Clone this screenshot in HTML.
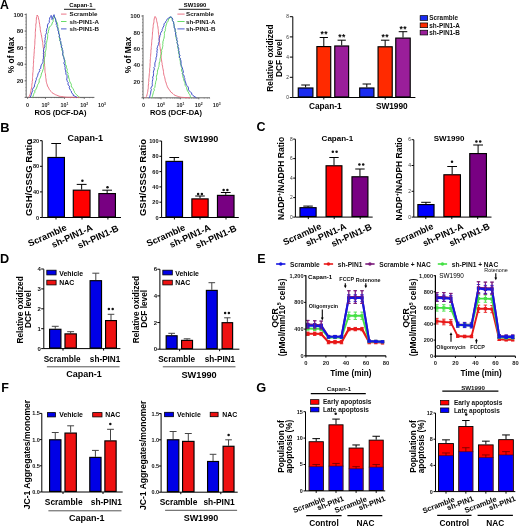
<!DOCTYPE html>
<html><head><meta charset="utf-8"><style>
html,body{margin:0;padding:0;background:#fff;width:520px;height:526px;overflow:hidden}
svg{display:block;font-family:"Liberation Sans",sans-serif;will-change:transform}
</style></head><body>
<svg width="520" height="526" viewBox="0 0 520 526">
<rect width="520" height="526" fill="#fff"/>
<text x="0" y="9.01" font-size="12.3" font-weight="bold">A</text>
<text x="0.3" y="131.84" font-size="12.9" font-weight="bold">B</text>
<text x="256.4" y="131.25" font-size="12.5" font-weight="bold">C</text>
<text x="0" y="263.09" font-size="12.7" font-weight="bold">D</text>
<text x="257.2" y="263.15" font-size="12.5" font-weight="bold">E</text>
<text x="1.2" y="392.15" font-size="12.5" font-weight="bold">F</text>
<text x="256.2" y="392.16" font-size="12.8" font-weight="bold">G</text>
<line x1="26.2" y1="13.5" x2="26.2" y2="97.4" stroke="#555" stroke-width="0.9"/>
<line x1="26.2" y1="97.4" x2="94.4" y2="97.4" stroke="#555" stroke-width="0.9"/>
<line x1="24.6" y1="97.4" x2="26.2" y2="97.4" stroke="#555" stroke-width="0.8"/>
<line x1="24.6" y1="80.82" x2="26.2" y2="80.82" stroke="#555" stroke-width="0.8"/>
<text x="23.4" y="82.97" font-size="6" font-weight="bold" text-anchor="end" fill="#222">20</text>
<line x1="24.6" y1="64.24" x2="26.2" y2="64.24" stroke="#555" stroke-width="0.8"/>
<text x="23.4" y="66.39" font-size="6" font-weight="bold" text-anchor="end" fill="#222">40</text>
<line x1="24.6" y1="47.66" x2="26.2" y2="47.66" stroke="#555" stroke-width="0.8"/>
<text x="23.4" y="49.81" font-size="6" font-weight="bold" text-anchor="end" fill="#222">60</text>
<line x1="24.6" y1="31.08" x2="26.2" y2="31.08" stroke="#555" stroke-width="0.8"/>
<text x="23.4" y="33.23" font-size="6" font-weight="bold" text-anchor="end" fill="#222">80</text>
<line x1="24.6" y1="14.5" x2="26.2" y2="14.5" stroke="#555" stroke-width="0.8"/>
<text x="23.4" y="16.65" font-size="6" font-weight="bold" text-anchor="end" fill="#222">100</text>
<line x1="25.4" y1="97.4" x2="26.2" y2="97.4" stroke="#555" stroke-width="0.5"/>
<line x1="25.4" y1="94.08" x2="26.2" y2="94.08" stroke="#555" stroke-width="0.5"/>
<line x1="25.4" y1="90.77" x2="26.2" y2="90.77" stroke="#555" stroke-width="0.5"/>
<line x1="25.4" y1="87.45" x2="26.2" y2="87.45" stroke="#555" stroke-width="0.5"/>
<line x1="25.4" y1="84.14" x2="26.2" y2="84.14" stroke="#555" stroke-width="0.5"/>
<line x1="25.4" y1="80.82" x2="26.2" y2="80.82" stroke="#555" stroke-width="0.5"/>
<line x1="25.4" y1="77.5" x2="26.2" y2="77.5" stroke="#555" stroke-width="0.5"/>
<line x1="25.4" y1="74.19" x2="26.2" y2="74.19" stroke="#555" stroke-width="0.5"/>
<line x1="25.4" y1="70.87" x2="26.2" y2="70.87" stroke="#555" stroke-width="0.5"/>
<line x1="25.4" y1="67.56" x2="26.2" y2="67.56" stroke="#555" stroke-width="0.5"/>
<line x1="25.4" y1="64.24" x2="26.2" y2="64.24" stroke="#555" stroke-width="0.5"/>
<line x1="25.4" y1="60.92" x2="26.2" y2="60.92" stroke="#555" stroke-width="0.5"/>
<line x1="25.4" y1="57.61" x2="26.2" y2="57.61" stroke="#555" stroke-width="0.5"/>
<line x1="25.4" y1="54.29" x2="26.2" y2="54.29" stroke="#555" stroke-width="0.5"/>
<line x1="25.4" y1="50.98" x2="26.2" y2="50.98" stroke="#555" stroke-width="0.5"/>
<line x1="25.4" y1="47.66" x2="26.2" y2="47.66" stroke="#555" stroke-width="0.5"/>
<line x1="25.4" y1="44.34" x2="26.2" y2="44.34" stroke="#555" stroke-width="0.5"/>
<line x1="25.4" y1="41.03" x2="26.2" y2="41.03" stroke="#555" stroke-width="0.5"/>
<line x1="25.4" y1="37.71" x2="26.2" y2="37.71" stroke="#555" stroke-width="0.5"/>
<line x1="25.4" y1="34.4" x2="26.2" y2="34.4" stroke="#555" stroke-width="0.5"/>
<line x1="25.4" y1="31.08" x2="26.2" y2="31.08" stroke="#555" stroke-width="0.5"/>
<line x1="25.4" y1="27.76" x2="26.2" y2="27.76" stroke="#555" stroke-width="0.5"/>
<line x1="25.4" y1="24.45" x2="26.2" y2="24.45" stroke="#555" stroke-width="0.5"/>
<line x1="25.4" y1="21.13" x2="26.2" y2="21.13" stroke="#555" stroke-width="0.5"/>
<line x1="25.4" y1="17.82" x2="26.2" y2="17.82" stroke="#555" stroke-width="0.5"/>
<line x1="27.6" y1="97.4" x2="27.6" y2="98.9" stroke="#555" stroke-width="0.8"/>
<text x="27.6" y="106.53" font-size="5.4" font-weight="bold" text-anchor="middle" fill="#222">0</text>
<line x1="45.5" y1="97.4" x2="45.5" y2="98.9" stroke="#555" stroke-width="0.8"/>
<text x="45.5" y="106.5" font-size="5.4" font-weight="bold" text-anchor="middle" fill="#222">10<tspan font-size="3.4" dy="-2">0</tspan></text>
<line x1="64.5" y1="97.4" x2="64.5" y2="98.9" stroke="#555" stroke-width="0.8"/>
<text x="64.5" y="106.5" font-size="5.4" font-weight="bold" text-anchor="middle" fill="#222">10<tspan font-size="3.4" dy="-2">1</tspan></text>
<line x1="84.3" y1="97.4" x2="84.3" y2="98.9" stroke="#555" stroke-width="0.8"/>
<text x="84.3" y="106.5" font-size="5.4" font-weight="bold" text-anchor="middle" fill="#222">10<tspan font-size="3.4" dy="-2">2</tspan></text>
<text x="102" y="106.5" font-size="5.4" font-weight="bold" text-anchor="middle" fill="#222">10<tspan font-size="3.4" dy="-2">3</tspan></text>
<line x1="32.99" y1="97.4" x2="32.99" y2="98.2" stroke="#555" stroke-width="0.5"/>
<line x1="36.14" y1="97.4" x2="36.14" y2="98.2" stroke="#555" stroke-width="0.5"/>
<line x1="38.38" y1="97.4" x2="38.38" y2="98.2" stroke="#555" stroke-width="0.5"/>
<line x1="40.11" y1="97.4" x2="40.11" y2="98.2" stroke="#555" stroke-width="0.5"/>
<line x1="41.53" y1="97.4" x2="41.53" y2="98.2" stroke="#555" stroke-width="0.5"/>
<line x1="42.73" y1="97.4" x2="42.73" y2="98.2" stroke="#555" stroke-width="0.5"/>
<line x1="43.77" y1="97.4" x2="43.77" y2="98.2" stroke="#555" stroke-width="0.5"/>
<line x1="44.68" y1="97.4" x2="44.68" y2="98.2" stroke="#555" stroke-width="0.5"/>
<line x1="51.22" y1="97.4" x2="51.22" y2="98.2" stroke="#555" stroke-width="0.5"/>
<line x1="54.57" y1="97.4" x2="54.57" y2="98.2" stroke="#555" stroke-width="0.5"/>
<line x1="56.94" y1="97.4" x2="56.94" y2="98.2" stroke="#555" stroke-width="0.5"/>
<line x1="58.78" y1="97.4" x2="58.78" y2="98.2" stroke="#555" stroke-width="0.5"/>
<line x1="60.28" y1="97.4" x2="60.28" y2="98.2" stroke="#555" stroke-width="0.5"/>
<line x1="61.56" y1="97.4" x2="61.56" y2="98.2" stroke="#555" stroke-width="0.5"/>
<line x1="62.66" y1="97.4" x2="62.66" y2="98.2" stroke="#555" stroke-width="0.5"/>
<line x1="63.63" y1="97.4" x2="63.63" y2="98.2" stroke="#555" stroke-width="0.5"/>
<line x1="70.46" y1="97.4" x2="70.46" y2="98.2" stroke="#555" stroke-width="0.5"/>
<line x1="73.95" y1="97.4" x2="73.95" y2="98.2" stroke="#555" stroke-width="0.5"/>
<line x1="76.42" y1="97.4" x2="76.42" y2="98.2" stroke="#555" stroke-width="0.5"/>
<line x1="78.34" y1="97.4" x2="78.34" y2="98.2" stroke="#555" stroke-width="0.5"/>
<line x1="79.91" y1="97.4" x2="79.91" y2="98.2" stroke="#555" stroke-width="0.5"/>
<line x1="81.23" y1="97.4" x2="81.23" y2="98.2" stroke="#555" stroke-width="0.5"/>
<line x1="82.38" y1="97.4" x2="82.38" y2="98.2" stroke="#555" stroke-width="0.5"/>
<line x1="83.39" y1="97.4" x2="83.39" y2="98.2" stroke="#555" stroke-width="0.5"/>
<line x1="89.63" y1="97.4" x2="89.63" y2="98.2" stroke="#555" stroke-width="0.5"/>
<line x1="92.75" y1="97.4" x2="92.75" y2="98.2" stroke="#555" stroke-width="0.5"/>
<path d="M28.5 97.4 L29.25 96.2 L29.89 95.06 L30.38 93.56 L30.6 92.19 L30.95 90.85 L31.08 89.32 L31.6 87.99 L31.75 86.58 L31.82 85.37 L31.92 84.08 L32.29 82.58 L32.19 81.34 L32.63 79.98 L32.48 78.79 L32.49 77.55 L32.68 76.4 L32.69 75.15 L32.75 73.99 L32.84 72.71 L33.07 71.61 L33.08 70.34 L33.25 69.26 L33.05 67.97 L33.3 66.84 L33.43 65.59 L33.47 64.43 L33.37 63.22 L33.61 62.06 L33.59 60.74 L33.54 59.41 L33.86 58.17 L33.77 56.92 L34.02 55.67 L34.01 54.35 L34.14 53.14 L34.23 51.8 L34.32 50.46 L34.27 49.31 L34.64 48.02 L34.53 46.74 L34.63 45.69 L34.78 44.41 L34.87 43.15 L34.84 42.08 L34.92 40.79 L34.9 39.61 L35.17 38.31 L35.19 37.26 L35.28 36.04 L35.33 34.8 L35.32 33.59 L35.23 32.47 L35.45 31.15 L35.5 30 L35.56 28.77 L35.71 27.62 L35.83 26.39 L35.76 25.15 L35.9 24.02 L36.21 22.85 L36.29 21.66 L36.23 20.46 L36.45 19.12 L36.36 17.91 L36.93 16.45 L37.08 15.02 L38.15 16.42 L38.36 17.8 L38.62 19.06 L39.04 20.39 L39.19 21.7 L39.36 22.98 L39.66 24.28 L39.75 25.74 L40.05 26.95 L40.27 28.39 L40.27 29.58 L40.49 31.04 L40.74 32.29 L41.13 33.51 L41.23 34.84 L41.64 36 L41.7 37.28 L41.99 38.51 L42.21 39.77 L42.37 40.96 L42.77 42.29 L42.71 43.51 L42.84 44.75 L43.11 45.87 L43.09 47.02 L43.41 48.25 L43.53 49.64 L43.59 50.72 L43.81 52.09 L43.84 53.2 L43.82 54.37 L43.85 55.63 L44 56.74 L43.98 58.03 L44.12 59.2 L44.21 60.47 L44.46 61.51 L44.33 62.77 L44.65 64.05 L44.53 65.15 L44.71 66.46 L44.87 67.57 L44.93 68.83 L44.9 70.09 L44.96 71.29 L45.05 72.44 L45.44 73.7 L45.53 75.02 L45.69 76.23 L45.68 77.46 L45.97 78.77 L46.14 80.07 L46.19 81.21 L46.48 82.32 L46.77 83.67 L47.29 84.86 L47.45 86.02 L48.21 87.1 L48.77 88.2 L49.25 89.33 L50.12 90.51 L51.13 91.49 L51.93 92.55 L53.1 93.41 L54.25 93.97 L55.28 94.65 L56.46 95.07 L57.95 95.65 L59 96.2 L60.4 96.4 L61.8 96.6 L63.2 96.8 L64.6 97 L66 97.2 L67.27 97.22 L68.55 97.24 L69.82 97.25 L71.09 97.27 L72.36 97.29 L73.64 97.31 L74.91 97.33 L76.18 97.35 L77.45 97.36 L78.73 97.38 L80 97.4" fill="none" stroke="#e8667a" stroke-width="0.9" stroke-linejoin="round" opacity="1"/>
<path d="M32.6 97.4 L33.08 96.05 L33.55 94.7 L34.02 93.35 L34.91 92.24 L34.7 90.5 L36 89.58 L36.45 88.07 L37 86.96 L37.45 85.49 L37.79 84.39 L38.53 83.49 L39.2 82.02 L39.2 80.62 L39.28 79.24 L40.12 78.15 L40.49 77.21 L41.09 75.7 L41.3 74.08 L41.84 72.8 L42.38 71.77 L42.89 69.83 L43.45 68.66 L43.49 67.42 L43.7 66.06 L43.51 64.86 L44.24 63.12 L44.23 62.12 L44.15 60.82 L44.35 59.83 L44.54 58.58 L44.59 57.41 L45.26 55.98 L45.1 54.98 L45.38 53.49 L45.06 52.16 L45.63 50.82 L45.95 49.62 L46.1 48.4 L46.27 47.36 L46 46.01 L46.34 44.76 L46.23 43.27 L46.61 42.38 L46.91 40.63 L47.29 39.69 L47.57 38.12 L47.62 36.76 L47.76 35.68 L47.59 34.8 L47.71 33.41 L48.6 32.06 L48.24 31.21 L48.86 29.78 L48.95 28.26 L49.5 27.09 L50.62 25.75 L51.87 24.72 L52.2 22.93 L53.25 21.35 L53.02 20.1 L53.5 18.42 L54.34 17.15 L53.78 15.92 L55.3 18.13 L55.55 19.41 L56.18 20.97 L57.12 22.53 L57.52 23.94 L57.77 25.31 L57.7 26.45 L58.14 27.9 L57.84 29.27 L58.74 30.4 L58.68 31.84 L58.81 33.01 L59.41 34.37 L59.35 35.64 L59.07 36.91 L59.43 37.82 L59.58 39.07 L59.89 40.51 L60.51 41.89 L61.14 43.08 L60.76 43.97 L61.03 45.3 L61.61 46.66 L61.94 47.62 L61.93 49.01 L61.8 50 L62.42 51.29 L62.95 52.61 L62.64 53.83 L63.09 55.06 L63.69 56.41 L63.83 57.73 L64.07 59.09 L65.08 60.21 L64.94 61.31 L65.35 62.25 L65.48 63.69 L65.55 64.65 L66.38 65.98 L66.41 67.47 L66.77 68.32 L67.38 69.55 L66.79 70.91 L67.14 71.9 L68.14 73.32 L67.74 74.42 L68.43 75.67 L68.59 76.95 L68.8 78.01 L69.41 79.59 L69.48 80.71 L69.92 81.84 L70.56 83.02 L71.35 84.22 L71.24 85.32 L71.66 86.95 L72.63 88.25 L73.23 88.9 L73.76 90.47 L74.38 91.48 L74.61 92.62 L75.57 93.68 L76.4 94.69 L77.86 95.76 L78.52 96.5 L79.6 97.4" fill="none" stroke="#58d858" stroke-width="0.9" stroke-linejoin="round" opacity="1"/>
<path d="M30.2 97.4 L30.8 95.93 L31.4 94.47 L31.69 93.03 L32.18 91.91 L32.82 90.35 L32.42 89.74 L33.04 88.14 L34.26 87.15 L34.4 85.98 L34.59 84.45 L35.01 83.66 L35.3 82.27 L35.91 80.49 L36.37 79.71 L36.18 78.14 L37.22 77.3 L37.4 76.43 L37.76 75.3 L38.01 73.85 L38.7 72.58 L39.85 70.61 L39.36 69.47 L40.76 68.4 L40.75 67.08 L41.01 65.92 L41.32 64.83 L42.1 63.82 L42.72 62.61 L43.05 61.39 L42.95 59.54 L43.29 58.85 L43.47 57.31 L43.36 55.79 L43.67 54.77 L43.18 53.11 L44.04 52.5 L43.29 51.07 L43.85 49.32 L43.88 48.48 L44.75 46.67 L44.59 45.42 L44.86 44.38 L45.21 43.6 L44.91 42.36 L44.82 40.45 L45.32 39.16 L44.99 38.18 L45.63 36.75 L45.15 35.86 L45.68 34.53 L46.58 32.71 L46.25 31.41 L46.67 30.07 L46.87 28.69 L47.63 27.21 L47.32 25.96 L47.99 23.86 L49.32 22.47 L49.26 20.55 L49.6 19.51 L49.62 18.08 L50.76 16.38 L51.15 15.38 L51.57 16.59 L51.95 18.17 L51.73 19.38 L52.84 18.8 L52.67 17.2 L53.41 15.87 L54.04 14.67 L54.44 16.47 L54.76 17.91 L55.66 18.99 L55.75 20.84 L55.77 21.8 L56.62 23.01 L56.14 24.35 L57.02 25.31 L56.83 26.68 L57.7 27.96 L58.13 29.1 L57.9 30.77 L58.96 31.96 L58.43 32.96 L59.05 34.23 L59.64 35.93 L59.15 36.75 L60.15 38.25 L60.41 39.26 L59.86 40.45 L60.92 41.66 L60.66 43 L61.02 44.22 L61.89 45.27 L61.06 47.06 L62.38 48.32 L62.12 49.52 L62.9 50.26 L62.87 51.96 L62.95 52.99 L62.69 54.11 L62.8 55.17 L63.42 56.59 L63.87 57.67 L64.18 59.34 L64.41 60.69 L64.58 61.66 L63.72 62.98 L64.11 63.86 L64.9 65.22 L64.8 66.72 L65.23 67.49 L65 69.06 L65.47 70.2 L65.56 71.09 L66.01 72.85 L65.81 74.14 L66.94 75.46 L67.05 76.2 L67.05 78.13 L66.59 79.01 L67.09 80.51 L67.51 81.78 L68.33 82.64 L67.87 83.93 L68.35 85.09 L69.77 86.86 L69.1 87.8 L69.78 88.87 L70.42 90.19 L71.3 91.07 L71.43 92.13 L71.95 93.37 L73.26 94.33 L73.1 95.27 L74.73 96.13 L75.87 96.77 L77 97.4" fill="none" stroke="#3848c8" stroke-width="0.95" stroke-linejoin="round" opacity="1"/>
<text x="80.9" y="7.31" font-size="5.9" font-weight="bold" text-anchor="middle" fill="#000">Capan-1</text>
<line x1="64" y1="9.3" x2="95.5" y2="9.3" stroke="#000" stroke-width="0.9"/>
<line x1="61" y1="14.1" x2="66.5" y2="14.1" stroke="#e8667a" stroke-width="0.9"/>
<text x="69.5" y="16.32" font-size="6.2" font-weight="bold" text-anchor="start" fill="#111">Scramble</text>
<line x1="61" y1="21.5" x2="66.5" y2="21.5" stroke="#58d858" stroke-width="0.9"/>
<text x="69.5" y="23.72" font-size="6.2" font-weight="bold" text-anchor="start" fill="#111">sh-PIN1-A</text>
<line x1="61" y1="28.9" x2="66.5" y2="28.9" stroke="#3848c8" stroke-width="0.9"/>
<text x="69.5" y="31.12" font-size="6.2" font-weight="bold" text-anchor="start" fill="#111">sh-PIN1-B</text>
<text transform="translate(14.41 55) rotate(-90)" font-size="8.4" font-weight="bold" text-anchor="middle" fill="#000">% of Max</text>
<text x="60.5" y="114.98" font-size="7.5" font-weight="bold" text-anchor="middle" fill="#000">ROS (DCF-DA)</text>
<line x1="143" y1="15" x2="143" y2="97.8" stroke="#555" stroke-width="0.9"/>
<line x1="143" y1="97.8" x2="210" y2="97.8" stroke="#555" stroke-width="0.9"/>
<line x1="141.4" y1="97.8" x2="143" y2="97.8" stroke="#555" stroke-width="0.8"/>
<line x1="141.4" y1="81.44" x2="143" y2="81.44" stroke="#555" stroke-width="0.8"/>
<text x="140.2" y="83.59" font-size="6" font-weight="bold" text-anchor="end" fill="#222">20</text>
<line x1="141.4" y1="65.08" x2="143" y2="65.08" stroke="#555" stroke-width="0.8"/>
<text x="140.2" y="67.23" font-size="6" font-weight="bold" text-anchor="end" fill="#222">40</text>
<line x1="141.4" y1="48.72" x2="143" y2="48.72" stroke="#555" stroke-width="0.8"/>
<text x="140.2" y="50.87" font-size="6" font-weight="bold" text-anchor="end" fill="#222">60</text>
<line x1="141.4" y1="32.36" x2="143" y2="32.36" stroke="#555" stroke-width="0.8"/>
<text x="140.2" y="34.51" font-size="6" font-weight="bold" text-anchor="end" fill="#222">80</text>
<line x1="141.4" y1="16" x2="143" y2="16" stroke="#555" stroke-width="0.8"/>
<text x="140.2" y="18.15" font-size="6" font-weight="bold" text-anchor="end" fill="#222">100</text>
<line x1="142.2" y1="97.8" x2="143" y2="97.8" stroke="#555" stroke-width="0.5"/>
<line x1="142.2" y1="94.53" x2="143" y2="94.53" stroke="#555" stroke-width="0.5"/>
<line x1="142.2" y1="91.26" x2="143" y2="91.26" stroke="#555" stroke-width="0.5"/>
<line x1="142.2" y1="87.98" x2="143" y2="87.98" stroke="#555" stroke-width="0.5"/>
<line x1="142.2" y1="84.71" x2="143" y2="84.71" stroke="#555" stroke-width="0.5"/>
<line x1="142.2" y1="81.44" x2="143" y2="81.44" stroke="#555" stroke-width="0.5"/>
<line x1="142.2" y1="78.17" x2="143" y2="78.17" stroke="#555" stroke-width="0.5"/>
<line x1="142.2" y1="74.9" x2="143" y2="74.9" stroke="#555" stroke-width="0.5"/>
<line x1="142.2" y1="71.62" x2="143" y2="71.62" stroke="#555" stroke-width="0.5"/>
<line x1="142.2" y1="68.35" x2="143" y2="68.35" stroke="#555" stroke-width="0.5"/>
<line x1="142.2" y1="65.08" x2="143" y2="65.08" stroke="#555" stroke-width="0.5"/>
<line x1="142.2" y1="61.81" x2="143" y2="61.81" stroke="#555" stroke-width="0.5"/>
<line x1="142.2" y1="58.54" x2="143" y2="58.54" stroke="#555" stroke-width="0.5"/>
<line x1="142.2" y1="55.26" x2="143" y2="55.26" stroke="#555" stroke-width="0.5"/>
<line x1="142.2" y1="51.99" x2="143" y2="51.99" stroke="#555" stroke-width="0.5"/>
<line x1="142.2" y1="48.72" x2="143" y2="48.72" stroke="#555" stroke-width="0.5"/>
<line x1="142.2" y1="45.45" x2="143" y2="45.45" stroke="#555" stroke-width="0.5"/>
<line x1="142.2" y1="42.18" x2="143" y2="42.18" stroke="#555" stroke-width="0.5"/>
<line x1="142.2" y1="38.9" x2="143" y2="38.9" stroke="#555" stroke-width="0.5"/>
<line x1="142.2" y1="35.63" x2="143" y2="35.63" stroke="#555" stroke-width="0.5"/>
<line x1="142.2" y1="32.36" x2="143" y2="32.36" stroke="#555" stroke-width="0.5"/>
<line x1="142.2" y1="29.09" x2="143" y2="29.09" stroke="#555" stroke-width="0.5"/>
<line x1="142.2" y1="25.82" x2="143" y2="25.82" stroke="#555" stroke-width="0.5"/>
<line x1="142.2" y1="22.54" x2="143" y2="22.54" stroke="#555" stroke-width="0.5"/>
<line x1="142.2" y1="19.27" x2="143" y2="19.27" stroke="#555" stroke-width="0.5"/>
<line x1="143.5" y1="97.8" x2="143.5" y2="99.3" stroke="#555" stroke-width="0.8"/>
<text x="143.5" y="106.93" font-size="5.4" font-weight="bold" text-anchor="middle" fill="#222">0</text>
<line x1="161" y1="97.8" x2="161" y2="99.3" stroke="#555" stroke-width="0.8"/>
<text x="161" y="106.9" font-size="5.4" font-weight="bold" text-anchor="middle" fill="#222">10<tspan font-size="3.4" dy="-2">0</tspan></text>
<line x1="180.4" y1="97.8" x2="180.4" y2="99.3" stroke="#555" stroke-width="0.8"/>
<text x="180.4" y="106.9" font-size="5.4" font-weight="bold" text-anchor="middle" fill="#222">10<tspan font-size="3.4" dy="-2">1</tspan></text>
<line x1="198.8" y1="97.8" x2="198.8" y2="99.3" stroke="#555" stroke-width="0.8"/>
<text x="198.8" y="106.9" font-size="5.4" font-weight="bold" text-anchor="middle" fill="#222">10<tspan font-size="3.4" dy="-2">2</tspan></text>
<text x="216.8" y="106.9" font-size="5.4" font-weight="bold" text-anchor="middle" fill="#222">10<tspan font-size="3.4" dy="-2">3</tspan></text>
<line x1="148.77" y1="97.8" x2="148.77" y2="98.6" stroke="#555" stroke-width="0.5"/>
<line x1="151.85" y1="97.8" x2="151.85" y2="98.6" stroke="#555" stroke-width="0.5"/>
<line x1="154.04" y1="97.8" x2="154.04" y2="98.6" stroke="#555" stroke-width="0.5"/>
<line x1="155.73" y1="97.8" x2="155.73" y2="98.6" stroke="#555" stroke-width="0.5"/>
<line x1="157.12" y1="97.8" x2="157.12" y2="98.6" stroke="#555" stroke-width="0.5"/>
<line x1="158.29" y1="97.8" x2="158.29" y2="98.6" stroke="#555" stroke-width="0.5"/>
<line x1="159.3" y1="97.8" x2="159.3" y2="98.6" stroke="#555" stroke-width="0.5"/>
<line x1="160.2" y1="97.8" x2="160.2" y2="98.6" stroke="#555" stroke-width="0.5"/>
<line x1="166.84" y1="97.8" x2="166.84" y2="98.6" stroke="#555" stroke-width="0.5"/>
<line x1="170.26" y1="97.8" x2="170.26" y2="98.6" stroke="#555" stroke-width="0.5"/>
<line x1="172.68" y1="97.8" x2="172.68" y2="98.6" stroke="#555" stroke-width="0.5"/>
<line x1="174.56" y1="97.8" x2="174.56" y2="98.6" stroke="#555" stroke-width="0.5"/>
<line x1="176.1" y1="97.8" x2="176.1" y2="98.6" stroke="#555" stroke-width="0.5"/>
<line x1="177.39" y1="97.8" x2="177.39" y2="98.6" stroke="#555" stroke-width="0.5"/>
<line x1="178.52" y1="97.8" x2="178.52" y2="98.6" stroke="#555" stroke-width="0.5"/>
<line x1="179.51" y1="97.8" x2="179.51" y2="98.6" stroke="#555" stroke-width="0.5"/>
<line x1="185.94" y1="97.8" x2="185.94" y2="98.6" stroke="#555" stroke-width="0.5"/>
<line x1="189.18" y1="97.8" x2="189.18" y2="98.6" stroke="#555" stroke-width="0.5"/>
<line x1="191.48" y1="97.8" x2="191.48" y2="98.6" stroke="#555" stroke-width="0.5"/>
<line x1="193.26" y1="97.8" x2="193.26" y2="98.6" stroke="#555" stroke-width="0.5"/>
<line x1="194.72" y1="97.8" x2="194.72" y2="98.6" stroke="#555" stroke-width="0.5"/>
<line x1="195.95" y1="97.8" x2="195.95" y2="98.6" stroke="#555" stroke-width="0.5"/>
<line x1="197.02" y1="97.8" x2="197.02" y2="98.6" stroke="#555" stroke-width="0.5"/>
<line x1="197.96" y1="97.8" x2="197.96" y2="98.6" stroke="#555" stroke-width="0.5"/>
<line x1="204.22" y1="97.8" x2="204.22" y2="98.6" stroke="#555" stroke-width="0.5"/>
<line x1="207.39" y1="97.8" x2="207.39" y2="98.6" stroke="#555" stroke-width="0.5"/>
<line x1="209.64" y1="97.8" x2="209.64" y2="98.6" stroke="#555" stroke-width="0.5"/>
<path d="M145 97.8 L145.9 96.9 L146.8 96 L146.93 94.86 L147.36 93.56 L147.52 92.39 L147.81 91.25 L147.88 89.92 L148.21 88.74 L148.3 87.41 L148.31 86.29 L148.35 85.08 L148.66 83.67 L148.51 82.51 L148.89 81.23 L148.78 79.99 L148.83 78.7 L149.06 77.5 L149.11 76.2 L149.22 74.99 L149.32 73.66 L149.57 72.51 L149.59 71.19 L149.78 70.06 L149.6 68.72 L149.87 67.54 L150.01 66.24 L150.07 65.03 L149.99 63.77 L150.25 62.56 L150.22 61.27 L150.16 59.95 L150.48 58.75 L150.39 57.55 L150.64 56.34 L150.63 55.07 L150.76 53.9 L150.86 52.6 L150.94 51.3 L150.9 50.19 L151.28 48.94 L151.19 47.63 L151.32 46.55 L151.49 45.24 L151.61 43.95 L151.62 42.85 L151.75 41.53 L151.78 40.32 L152.1 38.99 L152.16 37.9 L152.31 36.66 L152.4 35.39 L152.44 34.14 L152.41 32.99 L152.67 31.64 L152.77 30.46 L152.84 29.2 L153.01 28.02 L153.21 26.71 L153.2 25.38 L153.42 24.16 L153.79 22.91 L153.95 21.63 L153.96 20.35 L154.25 18.92 L154.46 17.66 L155.08 16.45 L156.08 18.02 L156.41 19.21 L156.61 20.58 L156.87 21.82 L157.29 23.13 L157.43 24.42 L157.6 25.69 L157.98 26.94 L158 28.29 L158.25 29.38 L158.4 30.7 L158.34 31.77 L158.5 33.11 L158.63 34.32 L158.9 35.51 L158.89 36.8 L159.18 37.93 L159.13 39.17 L159.3 40.37 L159.4 41.59 L159.45 42.75 L159.84 44.07 L159.79 45.29 L159.93 46.52 L160.21 47.65 L160.2 48.8 L160.54 50.03 L160.66 51.42 L160.73 52.5 L160.97 53.86 L161.06 55 L161.11 56.18 L161.21 57.46 L161.43 58.58 L161.48 59.88 L161.69 61.06 L161.85 62.34 L162.17 63.4 L162.11 64.67 L162.57 66.08 L162.61 67.31 L162.94 68.75 L163.24 69.99 L163.46 71.38 L163.57 72.76 L163.72 74.04 L163.98 75.24 L164.52 76.55 L164.78 77.92 L165.1 79.18 L165.25 80.46 L165.71 81.82 L166.22 83.11 L166.45 84.29 L166.92 85.44 L167.39 86.83 L168.09 88.06 L168.65 89.02 L169.48 89.98 L170.12 90.95 L170.67 91.96 L171.97 92.89 L173.03 93.74 L173.88 94.68 L175.1 95.41 L176.25 95.79 L177.4 96.22 L178.6 96.58 L179.8 96.94 L181 97.3 L182.29 97.37 L183.57 97.44 L184.86 97.51 L186.14 97.59 L187.43 97.66 L188.71 97.73 L190 97.8" fill="none" stroke="#e8667a" stroke-width="0.9" stroke-linejoin="round" opacity="1"/>
<path d="M152 97.8 L152.33 96.5 L152.67 95.2 L153 93.9 L153.33 92.6 L153.67 91.3 L154.41 90.24 L153.9 88.38 L154.9 87.33 L155.05 85.7 L155.3 84.46 L155.57 82.82 L155.69 81.61 L156.2 80.6 L156.65 79.02 L156.45 77.54 L156.33 76.08 L156.97 74.9 L157.11 73.99 L157.47 72.59 L157.43 71.08 L157.73 69.91 L158.12 69.16 L158.49 67.49 L158.91 66.6 L158.99 65.44 L159.24 64.16 L159.14 63 L159.95 61.31 L160.03 60.35 L160.03 58.99 L160.32 57.95 L160.6 56.65 L160.74 55.42 L161.49 53.93 L161.46 52.93 L161.78 51.5 L161.51 50.23 L162.11 48.95 L162.48 47.82 L162.66 46.65 L162.88 45.68 L162.65 44.39 L162.96 43.24 L162.83 41.84 L163.24 40.98 L163.56 39.27 L163.96 38.37 L164.27 36.83 L164.35 35.51 L164.49 34.38 L164.33 33.45 L164.45 32.01 L165.4 30.7 L165.11 29.87 L165.58 28.62 L165.51 27.26 L165.92 26.26 L166.12 25.25 L166.57 23.87 L167.07 22.37 L168.28 21.06 L168.22 20.1 L169.03 18.69 L170.21 17.68 L169.98 16.72 L172.1 18.13 L171.99 19.08 L172.24 20.31 L173.24 21.63 L173.7 22.8 L173.99 23.94 L173.98 24.85 L174.39 26.15 L174.14 27.47 L175.09 28.55 L175.08 29.94 L175.26 31.06 L175.91 32.37 L175.85 33.71 L175.57 35.03 L175.88 35.96 L175.98 37.22 L176.24 38.67 L176.81 40.06 L177.39 41.27 L176.96 42.17 L177.18 43.45 L177.71 44.76 L177.99 45.67 L177.93 47.01 L177.75 48.05 L178.32 49.39 L178.8 50.76 L178.44 52.03 L178.76 53.35 L179.22 54.78 L179.23 56.18 L179.34 57.62 L180.22 58.82 L179.94 60.01 L180.3 61.01 L180.38 62.51 L180.39 63.53 L181.17 64.93 L181.14 66.48 L181.45 67.39 L182.01 68.68 L181.37 70.1 L181.7 71.1 L182.62 72.49 L182.14 73.57 L182.75 74.79 L182.82 76.05 L182.96 77.08 L183.49 78.64 L183.56 79.7 L184 80.76 L184.52 81.86 L185.19 82.98 L184.96 84 L185.26 85.55 L186.11 86.77 L186.49 87.42 L186.8 88.99 L187.2 90 L187.44 91.09 L188.41 92.1 L188.74 93.33 L189.69 94.62 L190.25 95.75 L190.43 96.69 L191 97.8" fill="none" stroke="#58d858" stroke-width="0.9" stroke-linejoin="round" opacity="1"/>
<path d="M149.4 97.8 L149.72 96.64 L150.04 95.48 L150.36 94.32 L150.68 93.16 L150.69 92.03 L150.99 90.87 L151.45 89.29 L150.87 88.64 L151.31 87.01 L152.34 85.98 L152.3 84.78 L152.22 83.35 L152.36 82.66 L152.38 81.37 L152.71 79.69 L152.98 78.73 L152.59 77 L153.44 75.98 L153.43 74.94 L153.59 73.64 L153.37 72.22 L153.68 70.91 L154.45 68.91 L153.81 67.6 L155.06 66.35 L154.84 65.06 L154.88 63.92 L154.88 62.86 L155.34 61.89 L155.65 60.71 L156.04 59.55 L156.01 57.76 L156.47 56.93 L156.77 55.25 L156.78 53.59 L157.16 52.45 L156.74 50.69 L157.62 50.15 L156.91 48.82 L157.49 47.15 L157.55 46.39 L158.45 44.67 L158.42 43.41 L158.83 42.34 L159.31 41.55 L159.14 40.29 L159.19 38.36 L159.82 37.06 L159.77 35.87 L160.7 34.22 L160.45 33.26 L161.18 32.13 L162.28 30.51 L162.15 29.41 L162.77 28.27 L163.07 27.09 L164.03 25.88 L163.92 24.91 L164.19 23.48 L165.57 22.52 L165.86 21.11 L166.5 20.49 L166.82 19.48 L169.16 17.68 L170.95 16.78 L172.22 17.89 L172.75 19.5 L172.43 20.35 L173.71 22.33 L173.42 23.18 L174.04 24.3 L173.98 25.51 L174.2 26.93 L174.33 27.98 L175.11 28.95 L175.08 30.67 L175 31.49 L175.81 32.69 L175.3 34.02 L176.14 34.96 L175.91 36.32 L176.75 37.58 L177 38.57 L176.6 40.11 L177.5 41.29 L176.96 42.38 L177.56 43.76 L178.14 45.56 L177.63 46.48 L178.63 48.07 L178.87 49.19 L178.27 50.39 L179.28 51.62 L178.96 52.97 L179.26 54.21 L180.08 55.27 L179.19 57.08 L180.46 58.35 L180.16 59.57 L180.99 60.3 L181.01 61.99 L181.15 63.01 L180.93 64.14 L181.1 65.19 L181.77 66.6 L182.27 67.67 L182.73 69.47 L183.11 70.95 L183.43 72.06 L182.72 73.51 L183.26 74.52 L184.2 76.02 L184.23 77.57 L184.8 78.39 L184.7 80.01 L185.31 81.2 L185.49 82.03 L186.04 83.73 L186.21 85.01 L187.71 86.32 L188.19 87.05 L188.55 88.96 L188.46 89.84 L189.52 91.12 L190.51 92.18 L191.73 92.94 L191.67 94.13 L192.55 95.19 L194.13 96.27 L195.27 97.03 L196.4 97.8" fill="none" stroke="#3848c8" stroke-width="0.95" stroke-linejoin="round" opacity="1"/>
<text x="195.1" y="7.31" font-size="5.9" font-weight="bold" text-anchor="middle" fill="#000">SW1990</text>
<line x1="178.7" y1="9.3" x2="209.7" y2="9.3" stroke="#000" stroke-width="0.9"/>
<line x1="177.4" y1="14.1" x2="184.6" y2="14.1" stroke="#e8667a" stroke-width="0.9"/>
<text x="186" y="16.32" font-size="6.2" font-weight="bold" text-anchor="start" fill="#111">Scramble</text>
<line x1="177.4" y1="21.5" x2="184.6" y2="21.5" stroke="#58d858" stroke-width="0.9"/>
<text x="186" y="23.72" font-size="6.2" font-weight="bold" text-anchor="start" fill="#111">sh-PIN1-A</text>
<line x1="177.4" y1="28.9" x2="184.6" y2="28.9" stroke="#3848c8" stroke-width="0.9"/>
<text x="186" y="31.12" font-size="6.2" font-weight="bold" text-anchor="start" fill="#111">sh-PIN1-B</text>
<text transform="translate(130.51 55) rotate(-90)" font-size="8.4" font-weight="bold" text-anchor="middle" fill="#000">% of Max</text>
<text x="176" y="114.98" font-size="7.5" font-weight="bold" text-anchor="middle" fill="#000">ROS (DCF-DA)</text>
<line x1="292.8" y1="16.7" x2="292.8" y2="97.5" stroke="#000" stroke-width="1"/>
<line x1="289.8" y1="97.5" x2="292.8" y2="97.5" stroke="#000" stroke-width="1"/>
<text x="288.8" y="99.22" font-size="4.8" font-weight="normal" text-anchor="end" fill="#333">0</text>
<line x1="289.8" y1="77.3" x2="292.8" y2="77.3" stroke="#000" stroke-width="1"/>
<text x="288.8" y="79.02" font-size="4.8" font-weight="normal" text-anchor="end" fill="#333">2</text>
<line x1="289.8" y1="57.1" x2="292.8" y2="57.1" stroke="#000" stroke-width="1"/>
<text x="288.8" y="58.82" font-size="4.8" font-weight="normal" text-anchor="end" fill="#333">4</text>
<line x1="289.8" y1="36.9" x2="292.8" y2="36.9" stroke="#000" stroke-width="1"/>
<text x="288.8" y="38.62" font-size="4.8" font-weight="normal" text-anchor="end" fill="#333">6</text>
<line x1="289.8" y1="16.7" x2="292.8" y2="16.7" stroke="#000" stroke-width="1"/>
<text x="288.8" y="18.42" font-size="4.8" font-weight="normal" text-anchor="end" fill="#333">8</text>
<line x1="292.8" y1="97.5" x2="415.4" y2="97.5" stroke="#000" stroke-width="1"/>
<line x1="323.8" y1="97.5" x2="323.8" y2="99.5" stroke="#000" stroke-width="1"/>
<line x1="385.2" y1="97.5" x2="385.2" y2="99.5" stroke="#000" stroke-width="1"/>
<line x1="305.6" y1="87.4" x2="305.6" y2="85" stroke="#000" stroke-width="1"/>
<line x1="301.25" y1="85" x2="309.95" y2="85" stroke="#000" stroke-width="1"/>
<rect x="298.27" y="87.98" width="14.65" height="8.95" fill="#1a2cf0" stroke="#000" stroke-width="1.15"/>
<line x1="323.8" y1="46" x2="323.8" y2="37.5" stroke="#000" stroke-width="1"/>
<line x1="319.68" y1="37.5" x2="327.93" y2="37.5" stroke="#000" stroke-width="1"/>
<rect x="316.88" y="46.58" width="13.85" height="50.35" fill="#ff2a00" stroke="#000" stroke-width="1.15"/>
<line x1="341.7" y1="45.4" x2="341.7" y2="40.2" stroke="#000" stroke-width="1"/>
<line x1="337.57" y1="40.2" x2="345.82" y2="40.2" stroke="#000" stroke-width="1"/>
<rect x="334.77" y="45.98" width="13.85" height="50.95" fill="#9a1e9a" stroke="#000" stroke-width="1.15"/>
<line x1="366.8" y1="87.4" x2="366.8" y2="84" stroke="#000" stroke-width="1"/>
<line x1="362.56" y1="84" x2="371.04" y2="84" stroke="#000" stroke-width="1"/>
<rect x="359.68" y="87.98" width="14.25" height="8.95" fill="#1a2cf0" stroke="#000" stroke-width="1.15"/>
<line x1="385.15" y1="46.2" x2="385.15" y2="40.2" stroke="#000" stroke-width="1"/>
<line x1="380.94" y1="40.2" x2="389.36" y2="40.2" stroke="#000" stroke-width="1"/>
<rect x="378.07" y="46.78" width="14.15" height="50.15" fill="#ff2a00" stroke="#000" stroke-width="1.15"/>
<line x1="403" y1="37.5" x2="403" y2="31.7" stroke="#000" stroke-width="1"/>
<line x1="398.71" y1="31.7" x2="407.29" y2="31.7" stroke="#000" stroke-width="1"/>
<rect x="395.77" y="38.08" width="14.45" height="58.85" fill="#9a1e9a" stroke="#000" stroke-width="1.15"/>
<text x="324.25" y="37.1" font-size="8.5" font-weight="bold" text-anchor="middle" letter-spacing="0.5">**</text>
<text x="341.95" y="39.7" font-size="8.5" font-weight="bold" text-anchor="middle" letter-spacing="0.5">**</text>
<text x="385.25" y="40.1" font-size="8.5" font-weight="bold" text-anchor="middle" letter-spacing="0.5">**</text>
<text x="403.25" y="32.4" font-size="8.5" font-weight="bold" text-anchor="middle" letter-spacing="0.5">**</text>
<text x="325.3" y="109.47" font-size="8.3" font-weight="bold" text-anchor="middle" fill="#000">Capan-1</text>
<text x="391.8" y="109.47" font-size="8.3" font-weight="bold" text-anchor="middle" fill="#000">SW1990</text>
<text transform="translate(272.87 58) rotate(-90)" font-size="8.3" font-weight="bold" text-anchor="middle" fill="#000">Relative oxidized</text>
<text transform="translate(281.57 58) rotate(-90)" font-size="8.3" font-weight="bold" text-anchor="middle" fill="#000">DCF level</text>
<rect x="420.15" y="15.65" width="7.5" height="4.7" fill="#1a2cf0" stroke="#000" stroke-width="0.7"/>
<text x="429.3" y="20.29" font-size="6.4" font-weight="bold" text-anchor="start" fill="#111">Scramble</text>
<rect x="420.15" y="22.95" width="7.5" height="4.7" fill="#ff2a00" stroke="#000" stroke-width="0.7"/>
<text x="429.3" y="27.59" font-size="6.4" font-weight="bold" text-anchor="start" fill="#111">sh-PIN1-A</text>
<rect x="420.15" y="30.25" width="7.5" height="4.7" fill="#9a1e9a" stroke="#000" stroke-width="0.7"/>
<text x="429.3" y="34.89" font-size="6.4" font-weight="bold" text-anchor="start" fill="#111">sh-PIN1-B</text>
<line x1="42.2" y1="140.6" x2="42.2" y2="217.5" stroke="#000" stroke-width="1"/>
<line x1="40" y1="217.5" x2="42.2" y2="217.5" stroke="#000" stroke-width="1"/>
<text x="39.2" y="219.5" font-size="5.6" font-weight="bold" text-anchor="end" fill="#111">0</text>
<line x1="40" y1="191.9" x2="42.2" y2="191.9" stroke="#000" stroke-width="1"/>
<text x="39.2" y="193.9" font-size="5.6" font-weight="bold" text-anchor="end" fill="#111">40</text>
<line x1="40" y1="166.3" x2="42.2" y2="166.3" stroke="#000" stroke-width="1"/>
<text x="39.2" y="168.3" font-size="5.6" font-weight="bold" text-anchor="end" fill="#111">80</text>
<line x1="40" y1="140.7" x2="42.2" y2="140.7" stroke="#000" stroke-width="1"/>
<text x="39.2" y="142.7" font-size="5.6" font-weight="bold" text-anchor="end" fill="#111">120</text>
<line x1="42.2" y1="217.5" x2="121" y2="217.5" stroke="#000" stroke-width="1"/>
<line x1="56" y1="217.5" x2="56" y2="219.5" stroke="#000" stroke-width="1"/>
<line x1="82" y1="217.5" x2="82" y2="219.5" stroke="#000" stroke-width="1"/>
<line x1="107.9" y1="217.5" x2="107.9" y2="219.5" stroke="#000" stroke-width="1"/>
<line x1="56.15" y1="156.9" x2="56.15" y2="143.5" stroke="#000" stroke-width="1"/>
<line x1="51.28" y1="143.5" x2="61.02" y2="143.5" stroke="#000" stroke-width="1"/>
<rect x="47.88" y="157.47" width="16.55" height="59.45" fill="#0000ff" stroke="#000" stroke-width="1.15"/>
<line x1="81.65" y1="189.6" x2="81.65" y2="184.4" stroke="#000" stroke-width="1"/>
<line x1="76.73" y1="184.4" x2="86.57" y2="184.4" stroke="#000" stroke-width="1"/>
<rect x="73.28" y="190.17" width="16.75" height="26.75" fill="#ff0000" stroke="#000" stroke-width="1.15"/>
<line x1="107.15" y1="193" x2="107.15" y2="190.2" stroke="#000" stroke-width="1"/>
<line x1="102.28" y1="190.2" x2="112.02" y2="190.2" stroke="#000" stroke-width="1"/>
<rect x="98.88" y="193.57" width="16.55" height="23.35" fill="#780082" stroke="#000" stroke-width="1.15"/>
<circle cx="82.4" cy="180.8" r="1.25" fill="#111"/>
<circle cx="107.5" cy="187.2" r="1.25" fill="#111"/>
<text x="85.3" y="141.22" font-size="9" font-weight="bold" text-anchor="middle" fill="#000">Capan-1</text>
<text transform="translate(31.8 177.5) rotate(-90)" font-size="9.5" font-weight="bold" text-anchor="middle" fill="#000">GSH/GSSG Ratio</text>
<text transform="translate(67.5 229.7) rotate(-24.5)" font-size="9.2" font-weight="bold" text-anchor="end" fill="#000">Scramble</text>
<text transform="translate(93.3 229.7) rotate(-24.5)" font-size="9.2" font-weight="bold" text-anchor="end" fill="#000">sh-PIN1-A</text>
<text transform="translate(119.3 230.5) rotate(-24.5)" font-size="9.2" font-weight="bold" text-anchor="end" fill="#000">sh-PIN1-B</text>
<line x1="161.6" y1="141" x2="161.6" y2="217.5" stroke="#000" stroke-width="1"/>
<line x1="159.4" y1="217.5" x2="161.6" y2="217.5" stroke="#000" stroke-width="1"/>
<text x="158.6" y="219.5" font-size="5.6" font-weight="bold" text-anchor="end" fill="#111">0</text>
<line x1="159.4" y1="202.2" x2="161.6" y2="202.2" stroke="#000" stroke-width="1"/>
<text x="158.6" y="204.2" font-size="5.6" font-weight="bold" text-anchor="end" fill="#111">20</text>
<line x1="159.4" y1="186.9" x2="161.6" y2="186.9" stroke="#000" stroke-width="1"/>
<text x="158.6" y="188.9" font-size="5.6" font-weight="bold" text-anchor="end" fill="#111">40</text>
<line x1="159.4" y1="171.6" x2="161.6" y2="171.6" stroke="#000" stroke-width="1"/>
<text x="158.6" y="173.6" font-size="5.6" font-weight="bold" text-anchor="end" fill="#111">60</text>
<line x1="159.4" y1="156.3" x2="161.6" y2="156.3" stroke="#000" stroke-width="1"/>
<text x="158.6" y="158.3" font-size="5.6" font-weight="bold" text-anchor="end" fill="#111">80</text>
<line x1="159.4" y1="141" x2="161.6" y2="141" stroke="#000" stroke-width="1"/>
<text x="158.6" y="143" font-size="5.6" font-weight="bold" text-anchor="end" fill="#111">100</text>
<line x1="161.6" y1="217.5" x2="238.8" y2="217.5" stroke="#000" stroke-width="1"/>
<line x1="174.4" y1="217.5" x2="174.4" y2="219.5" stroke="#000" stroke-width="1"/>
<line x1="200" y1="217.5" x2="200" y2="219.5" stroke="#000" stroke-width="1"/>
<line x1="226" y1="217.5" x2="226" y2="219.5" stroke="#000" stroke-width="1"/>
<line x1="174.25" y1="160.8" x2="174.25" y2="157.5" stroke="#000" stroke-width="1"/>
<line x1="169.38" y1="157.5" x2="179.12" y2="157.5" stroke="#000" stroke-width="1"/>
<rect x="165.97" y="161.38" width="16.55" height="55.55" fill="#0000ff" stroke="#000" stroke-width="1.15"/>
<line x1="200" y1="198.3" x2="200" y2="196" stroke="#000" stroke-width="1"/>
<line x1="195.22" y1="196" x2="204.78" y2="196" stroke="#000" stroke-width="1"/>
<rect x="191.88" y="198.88" width="16.25" height="18.05" fill="#ff0000" stroke="#000" stroke-width="1.15"/>
<line x1="225.75" y1="194.8" x2="225.75" y2="192.5" stroke="#000" stroke-width="1"/>
<line x1="220.88" y1="192.5" x2="230.62" y2="192.5" stroke="#000" stroke-width="1"/>
<rect x="217.47" y="195.38" width="16.55" height="21.55" fill="#780082" stroke="#000" stroke-width="1.15"/>
<circle cx="198.1" cy="193.9" r="1.25" fill="#111"/>
<circle cx="201.9" cy="193.9" r="1.25" fill="#111"/>
<circle cx="223.6" cy="190.1" r="1.25" fill="#111"/>
<circle cx="227.4" cy="190.1" r="1.25" fill="#111"/>
<text x="201" y="141.92" font-size="9" font-weight="bold" text-anchor="middle" fill="#000">SW1990</text>
<text transform="translate(146 177.5) rotate(-90)" font-size="9.5" font-weight="bold" text-anchor="middle" fill="#000">GSH/GSSG Ratio</text>
<text transform="translate(186 229.7) rotate(-24.5)" font-size="9.2" font-weight="bold" text-anchor="end" fill="#000">Scramble</text>
<text transform="translate(211.3 229.7) rotate(-24.5)" font-size="9.2" font-weight="bold" text-anchor="end" fill="#000">sh-PIN1-A</text>
<text transform="translate(237.3 230.5) rotate(-24.5)" font-size="9.2" font-weight="bold" text-anchor="end" fill="#000">sh-PIN1-B</text>
<line x1="295.4" y1="139.2" x2="295.4" y2="217.1" stroke="#000" stroke-width="1"/>
<line x1="293.2" y1="217.1" x2="295.4" y2="217.1" stroke="#000" stroke-width="1"/>
<text x="292.7" y="218.85" font-size="4.9" font-weight="normal" text-anchor="end" fill="#333">0</text>
<line x1="293.2" y1="197.6" x2="295.4" y2="197.6" stroke="#000" stroke-width="1"/>
<text x="292.7" y="199.35" font-size="4.9" font-weight="normal" text-anchor="end" fill="#333">2</text>
<line x1="293.2" y1="178.1" x2="295.4" y2="178.1" stroke="#000" stroke-width="1"/>
<text x="292.7" y="179.85" font-size="4.9" font-weight="normal" text-anchor="end" fill="#333">4</text>
<line x1="293.2" y1="158.6" x2="295.4" y2="158.6" stroke="#000" stroke-width="1"/>
<text x="292.7" y="160.35" font-size="4.9" font-weight="normal" text-anchor="end" fill="#333">6</text>
<line x1="293.2" y1="139.1" x2="295.4" y2="139.1" stroke="#000" stroke-width="1"/>
<text x="292.7" y="140.85" font-size="4.9" font-weight="normal" text-anchor="end" fill="#333">8</text>
<line x1="295.6" y1="217.1" x2="372.7" y2="217.1" stroke="#000" stroke-width="1"/>
<line x1="308.3" y1="217.1" x2="308.3" y2="219.1" stroke="#000" stroke-width="1"/>
<line x1="334.2" y1="217.1" x2="334.2" y2="219.1" stroke="#000" stroke-width="1"/>
<line x1="360.2" y1="217.1" x2="360.2" y2="219.1" stroke="#000" stroke-width="1"/>
<line x1="308.05" y1="207.1" x2="308.05" y2="206.1" stroke="#000" stroke-width="1"/>
<line x1="303.29" y1="206.1" x2="312.81" y2="206.1" stroke="#000" stroke-width="1"/>
<rect x="299.97" y="207.67" width="16.15" height="8.85" fill="#0000ff" stroke="#000" stroke-width="1.15"/>
<line x1="334" y1="165.2" x2="334" y2="157.5" stroke="#000" stroke-width="1"/>
<line x1="329.32" y1="157.5" x2="338.68" y2="157.5" stroke="#000" stroke-width="1"/>
<rect x="326.07" y="165.77" width="15.85" height="50.75" fill="#ff0000" stroke="#000" stroke-width="1.15"/>
<line x1="359.95" y1="176.2" x2="359.95" y2="169" stroke="#000" stroke-width="1"/>
<line x1="355.25" y1="169" x2="364.65" y2="169" stroke="#000" stroke-width="1"/>
<rect x="351.97" y="176.77" width="15.95" height="39.75" fill="#780082" stroke="#000" stroke-width="1.15"/>
<circle cx="332.8" cy="151.7" r="1.25" fill="#111"/>
<circle cx="336.6" cy="151.7" r="1.25" fill="#111"/>
<circle cx="359.4" cy="164.5" r="1.25" fill="#111"/>
<circle cx="363.2" cy="164.5" r="1.25" fill="#111"/>
<text x="337.4" y="141.16" font-size="8" font-weight="bold" text-anchor="middle" fill="#000">Capan-1</text>
<text transform="translate(284.24 178.5) rotate(-90)" font-size="8.5" font-weight="bold" text-anchor="middle" fill="#000">NADP<tspan font-size="5" dy="-3">+</tspan><tspan dy="3">/NADPH Ratio</tspan></text>
<text transform="translate(322 228.5) rotate(-24.5)" font-size="9.1" font-weight="bold" text-anchor="end" fill="#000">Scramble</text>
<text transform="translate(347 228.5) rotate(-24.5)" font-size="9.1" font-weight="bold" text-anchor="end" fill="#000">sh-PIN1-A</text>
<text transform="translate(372.5 229) rotate(-24.5)" font-size="9.1" font-weight="bold" text-anchor="end" fill="#000">sh-PIN1-B</text>
<line x1="413.8" y1="139.8" x2="413.8" y2="217.1" stroke="#000" stroke-width="1"/>
<line x1="411.6" y1="217.1" x2="413.8" y2="217.1" stroke="#000" stroke-width="1"/>
<text x="411.1" y="218.85" font-size="4.9" font-weight="normal" text-anchor="end" fill="#333">0</text>
<line x1="411.6" y1="191.3" x2="413.8" y2="191.3" stroke="#000" stroke-width="1"/>
<text x="411.1" y="193.05" font-size="4.9" font-weight="normal" text-anchor="end" fill="#333">2</text>
<line x1="411.6" y1="165.5" x2="413.8" y2="165.5" stroke="#000" stroke-width="1"/>
<text x="411.1" y="167.25" font-size="4.9" font-weight="normal" text-anchor="end" fill="#333">4</text>
<line x1="411.6" y1="139.7" x2="413.8" y2="139.7" stroke="#000" stroke-width="1"/>
<text x="411.1" y="141.45" font-size="4.9" font-weight="normal" text-anchor="end" fill="#333">6</text>
<line x1="413.8" y1="217.1" x2="491.5" y2="217.1" stroke="#000" stroke-width="1"/>
<line x1="425.8" y1="217.1" x2="425.8" y2="219.1" stroke="#000" stroke-width="1"/>
<line x1="451.8" y1="217.1" x2="451.8" y2="219.1" stroke="#000" stroke-width="1"/>
<line x1="477.7" y1="217.1" x2="477.7" y2="219.1" stroke="#000" stroke-width="1"/>
<line x1="425.95" y1="204" x2="425.95" y2="202.3" stroke="#000" stroke-width="1"/>
<line x1="421.19" y1="202.3" x2="430.71" y2="202.3" stroke="#000" stroke-width="1"/>
<rect x="417.88" y="204.57" width="16.15" height="11.95" fill="#0000ff" stroke="#000" stroke-width="1.15"/>
<line x1="452.15" y1="174.2" x2="452.15" y2="166.5" stroke="#000" stroke-width="1"/>
<line x1="447.28" y1="166.5" x2="457.02" y2="166.5" stroke="#000" stroke-width="1"/>
<rect x="443.88" y="174.77" width="16.55" height="41.75" fill="#ff0000" stroke="#000" stroke-width="1.15"/>
<line x1="478.1" y1="153" x2="478.1" y2="145" stroke="#000" stroke-width="1"/>
<line x1="473.21" y1="145" x2="483" y2="145" stroke="#000" stroke-width="1"/>
<rect x="469.77" y="153.57" width="16.65" height="62.95" fill="#780082" stroke="#000" stroke-width="1.15"/>
<circle cx="452" cy="161.8" r="1.25" fill="#111"/>
<circle cx="476.4" cy="141.6" r="1.25" fill="#111"/>
<circle cx="480.2" cy="141.6" r="1.25" fill="#111"/>
<text x="449" y="140.56" font-size="8" font-weight="bold" text-anchor="middle" fill="#000">SW1990</text>
<text transform="translate(402.44 178.8) rotate(-90)" font-size="8.5" font-weight="bold" text-anchor="middle" fill="#000">NADP<tspan font-size="5" dy="-3">+</tspan><tspan dy="3">/NADPH Ratio</tspan></text>
<text transform="translate(434 228.5) rotate(-24.5)" font-size="9.1" font-weight="bold" text-anchor="end" fill="#000">Scramble</text>
<text transform="translate(464 228.5) rotate(-24.5)" font-size="9.1" font-weight="bold" text-anchor="end" fill="#000">sh-PIN1-A</text>
<text transform="translate(490.5 228.5) rotate(-24.5)" font-size="9.1" font-weight="bold" text-anchor="end" fill="#000">sh-PIN1-B</text>
<line x1="43.8" y1="269.2" x2="43.8" y2="348.6" stroke="#000" stroke-width="1"/>
<line x1="41.2" y1="348.6" x2="43.8" y2="348.6" stroke="#000" stroke-width="1"/>
<text x="40.9" y="350.75" font-size="6" font-weight="bold" text-anchor="end" fill="#111">0</text>
<line x1="41.2" y1="328.7" x2="43.8" y2="328.7" stroke="#000" stroke-width="1"/>
<text x="40.9" y="330.85" font-size="6" font-weight="bold" text-anchor="end" fill="#111">1</text>
<line x1="41.2" y1="308.8" x2="43.8" y2="308.8" stroke="#000" stroke-width="1"/>
<text x="40.9" y="310.95" font-size="6" font-weight="bold" text-anchor="end" fill="#111">2</text>
<line x1="41.2" y1="288.9" x2="43.8" y2="288.9" stroke="#000" stroke-width="1"/>
<text x="40.9" y="291.05" font-size="6" font-weight="bold" text-anchor="end" fill="#111">3</text>
<line x1="41.2" y1="269" x2="43.8" y2="269" stroke="#000" stroke-width="1"/>
<text x="40.9" y="271.15" font-size="6" font-weight="bold" text-anchor="end" fill="#111">4</text>
<line x1="43.8" y1="348.6" x2="120.4" y2="348.6" stroke="#000" stroke-width="1"/>
<line x1="63" y1="348.6" x2="63" y2="350.6" stroke="#000" stroke-width="1"/>
<line x1="103.6" y1="348.6" x2="103.6" y2="350.6" stroke="#000" stroke-width="1"/>
<line x1="55.25" y1="328.7" x2="55.25" y2="326.3" stroke="#444" stroke-width="1"/>
<line x1="51.81" y1="326.3" x2="58.69" y2="326.3" stroke="#444" stroke-width="1"/>
<rect x="49.58" y="329.28" width="11.35" height="18.75" fill="#0000e6" stroke="#000" stroke-width="1.15"/>
<line x1="70.65" y1="333.3" x2="70.65" y2="331.7" stroke="#444" stroke-width="1"/>
<line x1="67.21" y1="331.7" x2="74.09" y2="331.7" stroke="#444" stroke-width="1"/>
<rect x="64.98" y="333.88" width="11.35" height="14.15" fill="#ee1111" stroke="#000" stroke-width="1.15"/>
<line x1="95.8" y1="280.1" x2="95.8" y2="273.2" stroke="#444" stroke-width="1"/>
<line x1="92.33" y1="273.2" x2="99.27" y2="273.2" stroke="#444" stroke-width="1"/>
<rect x="90.08" y="280.68" width="11.45" height="67.35" fill="#0000e6" stroke="#000" stroke-width="1.15"/>
<line x1="111" y1="320" x2="111" y2="314.3" stroke="#444" stroke-width="1"/>
<line x1="107.7" y1="314.3" x2="114.3" y2="314.3" stroke="#444" stroke-width="1"/>
<rect x="105.58" y="320.57" width="10.85" height="27.45" fill="#ee1111" stroke="#000" stroke-width="1.15"/>
<circle cx="108.9" cy="308.9" r="1.25" fill="#111"/>
<circle cx="112.7" cy="308.9" r="1.25" fill="#111"/>
<rect x="46.8" y="270.2" width="9.3" height="4.7" fill="#0000e6" stroke="#000" stroke-width="0.8"/>
<rect x="46.8" y="280.2" width="9.3" height="4.7" fill="#ee1111" stroke="#000" stroke-width="0.8"/>
<text x="59.3" y="275.77" font-size="6.9" font-weight="bold" text-anchor="start" fill="#000">Vehicle</text>
<text x="59.3" y="285.17" font-size="6.9" font-weight="bold" text-anchor="start" fill="#000">NAC</text>
<text x="62.1" y="362.04" font-size="8.2" font-weight="bold" text-anchor="middle" fill="#000">Scramble</text>
<text x="105.1" y="362.04" font-size="8.2" font-weight="bold" text-anchor="middle" fill="#000">sh-PIN1</text>
<line x1="46.9" y1="366.8" x2="119.6" y2="366.8" stroke="#555" stroke-width="1"/>
<text x="84" y="377.42" font-size="9" font-weight="bold" text-anchor="middle" fill="#000">Capan-1</text>
<text transform="translate(22.57 309.9) rotate(-90)" font-size="8.3" font-weight="bold" text-anchor="middle" fill="#000">Relative oxidized</text>
<text transform="translate(30.57 309) rotate(-90)" font-size="8.3" font-weight="bold" text-anchor="middle" fill="#000">DCF level</text>
<line x1="159.9" y1="269.2" x2="159.9" y2="349.2" stroke="#000" stroke-width="1"/>
<line x1="157.3" y1="349.2" x2="159.9" y2="349.2" stroke="#000" stroke-width="1"/>
<text x="157" y="351.35" font-size="6" font-weight="bold" text-anchor="end" fill="#111">0</text>
<line x1="157.3" y1="322.54" x2="159.9" y2="322.54" stroke="#000" stroke-width="1"/>
<text x="157" y="324.69" font-size="6" font-weight="bold" text-anchor="end" fill="#111">2</text>
<line x1="157.3" y1="295.88" x2="159.9" y2="295.88" stroke="#000" stroke-width="1"/>
<text x="157" y="298.03" font-size="6" font-weight="bold" text-anchor="end" fill="#111">4</text>
<line x1="157.3" y1="269.22" x2="159.9" y2="269.22" stroke="#000" stroke-width="1"/>
<text x="157" y="271.37" font-size="6" font-weight="bold" text-anchor="end" fill="#111">6</text>
<line x1="159.8" y1="349.2" x2="239.4" y2="349.2" stroke="#000" stroke-width="1"/>
<line x1="179.6" y1="349.2" x2="179.6" y2="351.2" stroke="#000" stroke-width="1"/>
<line x1="219.6" y1="349.2" x2="219.6" y2="351.2" stroke="#000" stroke-width="1"/>
<line x1="171.65" y1="335.2" x2="171.65" y2="333.3" stroke="#444" stroke-width="1"/>
<line x1="168.32" y1="333.3" x2="174.98" y2="333.3" stroke="#444" stroke-width="1"/>
<rect x="166.17" y="335.77" width="10.95" height="12.85" fill="#0000e6" stroke="#000" stroke-width="1.15"/>
<line x1="187.05" y1="339.8" x2="187.05" y2="338.8" stroke="#444" stroke-width="1"/>
<line x1="183.72" y1="338.8" x2="190.38" y2="338.8" stroke="#444" stroke-width="1"/>
<rect x="181.57" y="340.38" width="10.95" height="8.25" fill="#ee1111" stroke="#000" stroke-width="1.15"/>
<line x1="211.8" y1="289.8" x2="211.8" y2="282.7" stroke="#444" stroke-width="1"/>
<line x1="208.5" y1="282.7" x2="215.1" y2="282.7" stroke="#444" stroke-width="1"/>
<rect x="206.38" y="290.38" width="10.85" height="58.25" fill="#0000e6" stroke="#000" stroke-width="1.15"/>
<line x1="227.35" y1="322.1" x2="227.35" y2="317.8" stroke="#444" stroke-width="1"/>
<line x1="224.13" y1="317.8" x2="230.57" y2="317.8" stroke="#444" stroke-width="1"/>
<rect x="222.07" y="322.68" width="10.55" height="25.95" fill="#ee1111" stroke="#000" stroke-width="1.15"/>
<circle cx="225.1" cy="313" r="1.25" fill="#111"/>
<circle cx="228.9" cy="313" r="1.25" fill="#111"/>
<rect x="162.8" y="270.2" width="9.5" height="4.7" fill="#0000e6" stroke="#000" stroke-width="0.8"/>
<rect x="162.8" y="280.2" width="9.5" height="4.7" fill="#ee1111" stroke="#000" stroke-width="0.8"/>
<text x="175.2" y="275.77" font-size="6.9" font-weight="bold" text-anchor="start" fill="#000">Vehicle</text>
<text x="175.2" y="285.17" font-size="6.9" font-weight="bold" text-anchor="start" fill="#000">NAC</text>
<text x="176.6" y="361.84" font-size="8.2" font-weight="bold" text-anchor="middle" fill="#000">Scramble</text>
<text x="219.9" y="361.84" font-size="8.2" font-weight="bold" text-anchor="middle" fill="#000">sh-PIN1</text>
<line x1="162.8" y1="366.8" x2="235.5" y2="366.8" stroke="#555" stroke-width="1"/>
<text x="199.1" y="377.89" font-size="9.2" font-weight="bold" text-anchor="middle" fill="#000">SW1990</text>
<text transform="translate(139.17 309.6) rotate(-90)" font-size="8.3" font-weight="bold" text-anchor="middle" fill="#000">Relative oxidized</text>
<text transform="translate(147.37 308.8) rotate(-90)" font-size="8.3" font-weight="bold" text-anchor="middle" fill="#000">DCF level</text>
<line x1="276.1" y1="264" x2="285.4" y2="264" stroke="#1515e0" stroke-width="1.6"/>
<circle cx="280.75" cy="264" r="1.7" fill="#1515e0"/>
<text x="290.1" y="266.66" font-size="6.6" font-weight="bold" text-anchor="start" fill="#111">Scramble</text>
<line x1="323.8" y1="264" x2="333.1" y2="264" stroke="#e81818" stroke-width="1.6"/>
<circle cx="328.45" cy="264" r="1.7" fill="#e81818"/>
<text x="337.8" y="266.66" font-size="6.6" font-weight="bold" text-anchor="start" fill="#111">sh-PIN1</text>
<line x1="365.3" y1="264" x2="374.6" y2="264" stroke="#7a1a7a" stroke-width="1.6"/>
<circle cx="369.95" cy="264" r="1.7" fill="#7a1a7a"/>
<text x="379.3" y="266.66" font-size="6.6" font-weight="bold" text-anchor="start" fill="#111">Scramble + NAC</text>
<line x1="437.8" y1="264" x2="447.1" y2="264" stroke="#44e044" stroke-width="1.6"/>
<circle cx="442.45" cy="264" r="1.7" fill="#44e044"/>
<text x="451.8" y="266.66" font-size="6.6" font-weight="bold" text-anchor="start" fill="#111">sh-PIN1 + NAC</text>
<path d="M307.8 324.43 L314.7 324.76 L321.2 325.1 L328.5 336.78 L335 336.78 L341.5 336.78 L348.8 297.06 L355.3 297.06 L362 297.06 L369.2 341.12 L375.8 341.45 L382.5 341.78" fill="none" stroke="#7a1a7a" stroke-width="1.9" stroke-linejoin="round" opacity="1"/>
<line x1="307.8" y1="320.42" x2="307.8" y2="328.43" stroke="#7a1a7a" stroke-width="0.9"/>
<line x1="306.1" y1="320.42" x2="309.5" y2="320.42" stroke="#7a1a7a" stroke-width="0.9"/>
<line x1="306.1" y1="328.43" x2="309.5" y2="328.43" stroke="#7a1a7a" stroke-width="0.9"/>
<rect x="306.2" y="322.83" width="3.2" height="3.2" fill="#7a1a7a"/>
<line x1="314.7" y1="320.76" x2="314.7" y2="328.77" stroke="#7a1a7a" stroke-width="0.9"/>
<line x1="313" y1="320.76" x2="316.4" y2="320.76" stroke="#7a1a7a" stroke-width="0.9"/>
<line x1="313" y1="328.77" x2="316.4" y2="328.77" stroke="#7a1a7a" stroke-width="0.9"/>
<rect x="313.1" y="323.16" width="3.2" height="3.2" fill="#7a1a7a"/>
<line x1="321.2" y1="321.09" x2="321.2" y2="329.1" stroke="#7a1a7a" stroke-width="0.9"/>
<line x1="319.5" y1="321.09" x2="322.9" y2="321.09" stroke="#7a1a7a" stroke-width="0.9"/>
<line x1="319.5" y1="329.1" x2="322.9" y2="329.1" stroke="#7a1a7a" stroke-width="0.9"/>
<rect x="319.6" y="323.5" width="3.2" height="3.2" fill="#7a1a7a"/>
<line x1="328.5" y1="335.44" x2="328.5" y2="338.11" stroke="#7a1a7a" stroke-width="0.9"/>
<line x1="326.8" y1="335.44" x2="330.2" y2="335.44" stroke="#7a1a7a" stroke-width="0.9"/>
<line x1="326.8" y1="338.11" x2="330.2" y2="338.11" stroke="#7a1a7a" stroke-width="0.9"/>
<rect x="326.9" y="335.18" width="3.2" height="3.2" fill="#7a1a7a"/>
<line x1="335" y1="335.44" x2="335" y2="338.11" stroke="#7a1a7a" stroke-width="0.9"/>
<line x1="333.3" y1="335.44" x2="336.7" y2="335.44" stroke="#7a1a7a" stroke-width="0.9"/>
<line x1="333.3" y1="338.11" x2="336.7" y2="338.11" stroke="#7a1a7a" stroke-width="0.9"/>
<rect x="333.4" y="335.18" width="3.2" height="3.2" fill="#7a1a7a"/>
<line x1="341.5" y1="335.44" x2="341.5" y2="338.11" stroke="#7a1a7a" stroke-width="0.9"/>
<line x1="339.8" y1="335.44" x2="343.2" y2="335.44" stroke="#7a1a7a" stroke-width="0.9"/>
<line x1="339.8" y1="338.11" x2="343.2" y2="338.11" stroke="#7a1a7a" stroke-width="0.9"/>
<rect x="339.9" y="335.18" width="3.2" height="3.2" fill="#7a1a7a"/>
<line x1="348.8" y1="290.72" x2="348.8" y2="303.4" stroke="#7a1a7a" stroke-width="0.9"/>
<line x1="347.1" y1="290.72" x2="350.5" y2="290.72" stroke="#7a1a7a" stroke-width="0.9"/>
<line x1="347.1" y1="303.4" x2="350.5" y2="303.4" stroke="#7a1a7a" stroke-width="0.9"/>
<rect x="347.2" y="295.46" width="3.2" height="3.2" fill="#7a1a7a"/>
<line x1="355.3" y1="290.72" x2="355.3" y2="303.4" stroke="#7a1a7a" stroke-width="0.9"/>
<line x1="353.6" y1="290.72" x2="357" y2="290.72" stroke="#7a1a7a" stroke-width="0.9"/>
<line x1="353.6" y1="303.4" x2="357" y2="303.4" stroke="#7a1a7a" stroke-width="0.9"/>
<rect x="353.7" y="295.46" width="3.2" height="3.2" fill="#7a1a7a"/>
<line x1="362" y1="290.72" x2="362" y2="303.4" stroke="#7a1a7a" stroke-width="0.9"/>
<line x1="360.3" y1="290.72" x2="363.7" y2="290.72" stroke="#7a1a7a" stroke-width="0.9"/>
<line x1="360.3" y1="303.4" x2="363.7" y2="303.4" stroke="#7a1a7a" stroke-width="0.9"/>
<rect x="360.4" y="295.46" width="3.2" height="3.2" fill="#7a1a7a"/>
<line x1="369.2" y1="340.45" x2="369.2" y2="341.78" stroke="#7a1a7a" stroke-width="0.9"/>
<line x1="367.5" y1="340.45" x2="370.9" y2="340.45" stroke="#7a1a7a" stroke-width="0.9"/>
<line x1="367.5" y1="341.78" x2="370.9" y2="341.78" stroke="#7a1a7a" stroke-width="0.9"/>
<rect x="367.6" y="339.51" width="3.2" height="3.2" fill="#7a1a7a"/>
<line x1="375.8" y1="340.78" x2="375.8" y2="342.12" stroke="#7a1a7a" stroke-width="0.9"/>
<line x1="374.1" y1="340.78" x2="377.5" y2="340.78" stroke="#7a1a7a" stroke-width="0.9"/>
<line x1="374.1" y1="342.12" x2="377.5" y2="342.12" stroke="#7a1a7a" stroke-width="0.9"/>
<rect x="374.2" y="339.85" width="3.2" height="3.2" fill="#7a1a7a"/>
<line x1="382.5" y1="341.12" x2="382.5" y2="342.45" stroke="#7a1a7a" stroke-width="0.9"/>
<line x1="380.8" y1="341.12" x2="384.2" y2="341.12" stroke="#7a1a7a" stroke-width="0.9"/>
<line x1="380.8" y1="342.45" x2="384.2" y2="342.45" stroke="#7a1a7a" stroke-width="0.9"/>
<rect x="380.9" y="340.18" width="3.2" height="3.2" fill="#7a1a7a"/>
<path d="M307.8 333.77 L314.7 333.77 L321.2 333.91 L328.5 342.12 L335 342.12 L341.5 342.12 L348.8 329.1 L355.3 329.1 L362 329.1 L369.2 342.12 L375.8 342.12 L382.5 342.45" fill="none" stroke="#e81818" stroke-width="2.2" stroke-linejoin="round" opacity="1"/>
<line x1="307.8" y1="332.1" x2="307.8" y2="335.44" stroke="#e81818" stroke-width="0.9"/>
<line x1="306.1" y1="332.1" x2="309.5" y2="332.1" stroke="#e81818" stroke-width="0.9"/>
<line x1="306.1" y1="335.44" x2="309.5" y2="335.44" stroke="#e81818" stroke-width="0.9"/>
<rect x="306.2" y="332.17" width="3.2" height="3.2" fill="#e81818"/>
<line x1="314.7" y1="332.1" x2="314.7" y2="335.44" stroke="#e81818" stroke-width="0.9"/>
<line x1="313" y1="332.1" x2="316.4" y2="332.1" stroke="#e81818" stroke-width="0.9"/>
<line x1="313" y1="335.44" x2="316.4" y2="335.44" stroke="#e81818" stroke-width="0.9"/>
<rect x="313.1" y="332.17" width="3.2" height="3.2" fill="#e81818"/>
<line x1="321.2" y1="332.24" x2="321.2" y2="335.57" stroke="#e81818" stroke-width="0.9"/>
<line x1="319.5" y1="332.24" x2="322.9" y2="332.24" stroke="#e81818" stroke-width="0.9"/>
<line x1="319.5" y1="335.57" x2="322.9" y2="335.57" stroke="#e81818" stroke-width="0.9"/>
<rect x="319.6" y="332.31" width="3.2" height="3.2" fill="#e81818"/>
<line x1="328.5" y1="340.45" x2="328.5" y2="343.79" stroke="#e81818" stroke-width="0.9"/>
<line x1="326.8" y1="340.45" x2="330.2" y2="340.45" stroke="#e81818" stroke-width="0.9"/>
<line x1="326.8" y1="343.79" x2="330.2" y2="343.79" stroke="#e81818" stroke-width="0.9"/>
<rect x="326.9" y="340.52" width="3.2" height="3.2" fill="#e81818"/>
<line x1="335" y1="340.45" x2="335" y2="343.79" stroke="#e81818" stroke-width="0.9"/>
<line x1="333.3" y1="340.45" x2="336.7" y2="340.45" stroke="#e81818" stroke-width="0.9"/>
<line x1="333.3" y1="343.79" x2="336.7" y2="343.79" stroke="#e81818" stroke-width="0.9"/>
<rect x="333.4" y="340.52" width="3.2" height="3.2" fill="#e81818"/>
<line x1="341.5" y1="340.45" x2="341.5" y2="343.79" stroke="#e81818" stroke-width="0.9"/>
<line x1="339.8" y1="340.45" x2="343.2" y2="340.45" stroke="#e81818" stroke-width="0.9"/>
<line x1="339.8" y1="343.79" x2="343.2" y2="343.79" stroke="#e81818" stroke-width="0.9"/>
<rect x="339.9" y="340.52" width="3.2" height="3.2" fill="#e81818"/>
<line x1="348.8" y1="327.43" x2="348.8" y2="330.77" stroke="#e81818" stroke-width="0.9"/>
<line x1="347.1" y1="327.43" x2="350.5" y2="327.43" stroke="#e81818" stroke-width="0.9"/>
<line x1="347.1" y1="330.77" x2="350.5" y2="330.77" stroke="#e81818" stroke-width="0.9"/>
<rect x="347.2" y="327.5" width="3.2" height="3.2" fill="#e81818"/>
<line x1="355.3" y1="327.43" x2="355.3" y2="330.77" stroke="#e81818" stroke-width="0.9"/>
<line x1="353.6" y1="327.43" x2="357" y2="327.43" stroke="#e81818" stroke-width="0.9"/>
<line x1="353.6" y1="330.77" x2="357" y2="330.77" stroke="#e81818" stroke-width="0.9"/>
<rect x="353.7" y="327.5" width="3.2" height="3.2" fill="#e81818"/>
<line x1="362" y1="327.43" x2="362" y2="330.77" stroke="#e81818" stroke-width="0.9"/>
<line x1="360.3" y1="327.43" x2="363.7" y2="327.43" stroke="#e81818" stroke-width="0.9"/>
<line x1="360.3" y1="330.77" x2="363.7" y2="330.77" stroke="#e81818" stroke-width="0.9"/>
<rect x="360.4" y="327.5" width="3.2" height="3.2" fill="#e81818"/>
<line x1="369.2" y1="340.45" x2="369.2" y2="343.79" stroke="#e81818" stroke-width="0.9"/>
<line x1="367.5" y1="340.45" x2="370.9" y2="340.45" stroke="#e81818" stroke-width="0.9"/>
<line x1="367.5" y1="343.79" x2="370.9" y2="343.79" stroke="#e81818" stroke-width="0.9"/>
<rect x="367.6" y="340.52" width="3.2" height="3.2" fill="#e81818"/>
<line x1="375.8" y1="340.45" x2="375.8" y2="343.79" stroke="#e81818" stroke-width="0.9"/>
<line x1="374.1" y1="340.45" x2="377.5" y2="340.45" stroke="#e81818" stroke-width="0.9"/>
<line x1="374.1" y1="343.79" x2="377.5" y2="343.79" stroke="#e81818" stroke-width="0.9"/>
<rect x="374.2" y="340.52" width="3.2" height="3.2" fill="#e81818"/>
<line x1="382.5" y1="340.78" x2="382.5" y2="344.12" stroke="#e81818" stroke-width="0.9"/>
<line x1="380.8" y1="340.78" x2="384.2" y2="340.78" stroke="#e81818" stroke-width="0.9"/>
<line x1="380.8" y1="344.12" x2="384.2" y2="344.12" stroke="#e81818" stroke-width="0.9"/>
<rect x="380.9" y="340.85" width="3.2" height="3.2" fill="#e81818"/>
<path d="M307.8 328.43 L314.7 328.77 L321.2 328.77 L328.5 337.44 L335 337.44 L341.5 337.44 L348.8 315.75 L355.3 315.75 L362 315.75 L369.2 341.45 L375.8 341.45 L382.5 341.78" fill="none" stroke="#44e044" stroke-width="1.9" stroke-linejoin="round" opacity="1"/>
<line x1="307.8" y1="326.76" x2="307.8" y2="330.1" stroke="#44e044" stroke-width="0.9"/>
<line x1="306.1" y1="326.76" x2="309.5" y2="326.76" stroke="#44e044" stroke-width="0.9"/>
<line x1="306.1" y1="330.1" x2="309.5" y2="330.1" stroke="#44e044" stroke-width="0.9"/>
<rect x="306.2" y="326.83" width="3.2" height="3.2" fill="#44e044"/>
<line x1="314.7" y1="327.1" x2="314.7" y2="330.44" stroke="#44e044" stroke-width="0.9"/>
<line x1="313" y1="327.1" x2="316.4" y2="327.1" stroke="#44e044" stroke-width="0.9"/>
<line x1="313" y1="330.44" x2="316.4" y2="330.44" stroke="#44e044" stroke-width="0.9"/>
<rect x="313.1" y="327.17" width="3.2" height="3.2" fill="#44e044"/>
<line x1="321.2" y1="327.1" x2="321.2" y2="330.44" stroke="#44e044" stroke-width="0.9"/>
<line x1="319.5" y1="327.1" x2="322.9" y2="327.1" stroke="#44e044" stroke-width="0.9"/>
<line x1="319.5" y1="330.44" x2="322.9" y2="330.44" stroke="#44e044" stroke-width="0.9"/>
<rect x="319.6" y="327.17" width="3.2" height="3.2" fill="#44e044"/>
<line x1="328.5" y1="336.44" x2="328.5" y2="338.45" stroke="#44e044" stroke-width="0.9"/>
<line x1="326.8" y1="336.44" x2="330.2" y2="336.44" stroke="#44e044" stroke-width="0.9"/>
<line x1="326.8" y1="338.45" x2="330.2" y2="338.45" stroke="#44e044" stroke-width="0.9"/>
<rect x="326.9" y="335.84" width="3.2" height="3.2" fill="#44e044"/>
<line x1="335" y1="336.44" x2="335" y2="338.45" stroke="#44e044" stroke-width="0.9"/>
<line x1="333.3" y1="336.44" x2="336.7" y2="336.44" stroke="#44e044" stroke-width="0.9"/>
<line x1="333.3" y1="338.45" x2="336.7" y2="338.45" stroke="#44e044" stroke-width="0.9"/>
<rect x="333.4" y="335.84" width="3.2" height="3.2" fill="#44e044"/>
<line x1="341.5" y1="336.44" x2="341.5" y2="338.45" stroke="#44e044" stroke-width="0.9"/>
<line x1="339.8" y1="336.44" x2="343.2" y2="336.44" stroke="#44e044" stroke-width="0.9"/>
<line x1="339.8" y1="338.45" x2="343.2" y2="338.45" stroke="#44e044" stroke-width="0.9"/>
<rect x="339.9" y="335.84" width="3.2" height="3.2" fill="#44e044"/>
<line x1="348.8" y1="312.08" x2="348.8" y2="319.42" stroke="#44e044" stroke-width="0.9"/>
<line x1="347.1" y1="312.08" x2="350.5" y2="312.08" stroke="#44e044" stroke-width="0.9"/>
<line x1="347.1" y1="319.42" x2="350.5" y2="319.42" stroke="#44e044" stroke-width="0.9"/>
<rect x="347.2" y="314.15" width="3.2" height="3.2" fill="#44e044"/>
<line x1="355.3" y1="312.08" x2="355.3" y2="319.42" stroke="#44e044" stroke-width="0.9"/>
<line x1="353.6" y1="312.08" x2="357" y2="312.08" stroke="#44e044" stroke-width="0.9"/>
<line x1="353.6" y1="319.42" x2="357" y2="319.42" stroke="#44e044" stroke-width="0.9"/>
<rect x="353.7" y="314.15" width="3.2" height="3.2" fill="#44e044"/>
<line x1="362" y1="312.08" x2="362" y2="319.42" stroke="#44e044" stroke-width="0.9"/>
<line x1="360.3" y1="312.08" x2="363.7" y2="312.08" stroke="#44e044" stroke-width="0.9"/>
<line x1="360.3" y1="319.42" x2="363.7" y2="319.42" stroke="#44e044" stroke-width="0.9"/>
<rect x="360.4" y="314.15" width="3.2" height="3.2" fill="#44e044"/>
<line x1="369.2" y1="340.78" x2="369.2" y2="342.12" stroke="#44e044" stroke-width="0.9"/>
<line x1="367.5" y1="340.78" x2="370.9" y2="340.78" stroke="#44e044" stroke-width="0.9"/>
<line x1="367.5" y1="342.12" x2="370.9" y2="342.12" stroke="#44e044" stroke-width="0.9"/>
<rect x="367.6" y="339.85" width="3.2" height="3.2" fill="#44e044"/>
<line x1="375.8" y1="340.78" x2="375.8" y2="342.12" stroke="#44e044" stroke-width="0.9"/>
<line x1="374.1" y1="340.78" x2="377.5" y2="340.78" stroke="#44e044" stroke-width="0.9"/>
<line x1="374.1" y1="342.12" x2="377.5" y2="342.12" stroke="#44e044" stroke-width="0.9"/>
<rect x="374.2" y="339.85" width="3.2" height="3.2" fill="#44e044"/>
<line x1="382.5" y1="341.12" x2="382.5" y2="342.45" stroke="#44e044" stroke-width="0.9"/>
<line x1="380.8" y1="341.12" x2="384.2" y2="341.12" stroke="#44e044" stroke-width="0.9"/>
<line x1="380.8" y1="342.45" x2="384.2" y2="342.45" stroke="#44e044" stroke-width="0.9"/>
<rect x="380.9" y="340.18" width="3.2" height="3.2" fill="#44e044"/>
<path d="M307.8 325.76 L314.7 325.76 L321.2 326.43 L328.5 336.78 L335 336.78 L341.5 336.78 L348.8 298.06 L355.3 298.06 L362 298.06 L369.2 341.12 L375.8 341.45 L382.5 341.78" fill="none" stroke="#1515e0" stroke-width="2.1" stroke-linejoin="round" opacity="1"/>
<line x1="307.8" y1="323.76" x2="307.8" y2="327.76" stroke="#1515e0" stroke-width="0.9"/>
<line x1="306.1" y1="323.76" x2="309.5" y2="323.76" stroke="#1515e0" stroke-width="0.9"/>
<line x1="306.1" y1="327.76" x2="309.5" y2="327.76" stroke="#1515e0" stroke-width="0.9"/>
<rect x="306.2" y="324.16" width="3.2" height="3.2" fill="#1515e0"/>
<line x1="314.7" y1="323.76" x2="314.7" y2="327.76" stroke="#1515e0" stroke-width="0.9"/>
<line x1="313" y1="323.76" x2="316.4" y2="323.76" stroke="#1515e0" stroke-width="0.9"/>
<line x1="313" y1="327.76" x2="316.4" y2="327.76" stroke="#1515e0" stroke-width="0.9"/>
<rect x="313.1" y="324.16" width="3.2" height="3.2" fill="#1515e0"/>
<line x1="321.2" y1="324.43" x2="321.2" y2="328.43" stroke="#1515e0" stroke-width="0.9"/>
<line x1="319.5" y1="324.43" x2="322.9" y2="324.43" stroke="#1515e0" stroke-width="0.9"/>
<line x1="319.5" y1="328.43" x2="322.9" y2="328.43" stroke="#1515e0" stroke-width="0.9"/>
<rect x="319.6" y="324.83" width="3.2" height="3.2" fill="#1515e0"/>
<line x1="328.5" y1="335.44" x2="328.5" y2="338.11" stroke="#1515e0" stroke-width="0.9"/>
<line x1="326.8" y1="335.44" x2="330.2" y2="335.44" stroke="#1515e0" stroke-width="0.9"/>
<line x1="326.8" y1="338.11" x2="330.2" y2="338.11" stroke="#1515e0" stroke-width="0.9"/>
<rect x="326.9" y="335.18" width="3.2" height="3.2" fill="#1515e0"/>
<line x1="335" y1="335.44" x2="335" y2="338.11" stroke="#1515e0" stroke-width="0.9"/>
<line x1="333.3" y1="335.44" x2="336.7" y2="335.44" stroke="#1515e0" stroke-width="0.9"/>
<line x1="333.3" y1="338.11" x2="336.7" y2="338.11" stroke="#1515e0" stroke-width="0.9"/>
<rect x="333.4" y="335.18" width="3.2" height="3.2" fill="#1515e0"/>
<line x1="341.5" y1="335.44" x2="341.5" y2="338.11" stroke="#1515e0" stroke-width="0.9"/>
<line x1="339.8" y1="335.44" x2="343.2" y2="335.44" stroke="#1515e0" stroke-width="0.9"/>
<line x1="339.8" y1="338.11" x2="343.2" y2="338.11" stroke="#1515e0" stroke-width="0.9"/>
<rect x="339.9" y="335.18" width="3.2" height="3.2" fill="#1515e0"/>
<line x1="348.8" y1="294.72" x2="348.8" y2="301.4" stroke="#1515e0" stroke-width="0.9"/>
<line x1="347.1" y1="294.72" x2="350.5" y2="294.72" stroke="#1515e0" stroke-width="0.9"/>
<line x1="347.1" y1="301.4" x2="350.5" y2="301.4" stroke="#1515e0" stroke-width="0.9"/>
<rect x="347.2" y="296.46" width="3.2" height="3.2" fill="#1515e0"/>
<line x1="355.3" y1="294.72" x2="355.3" y2="301.4" stroke="#1515e0" stroke-width="0.9"/>
<line x1="353.6" y1="294.72" x2="357" y2="294.72" stroke="#1515e0" stroke-width="0.9"/>
<line x1="353.6" y1="301.4" x2="357" y2="301.4" stroke="#1515e0" stroke-width="0.9"/>
<rect x="353.7" y="296.46" width="3.2" height="3.2" fill="#1515e0"/>
<line x1="362" y1="294.72" x2="362" y2="301.4" stroke="#1515e0" stroke-width="0.9"/>
<line x1="360.3" y1="294.72" x2="363.7" y2="294.72" stroke="#1515e0" stroke-width="0.9"/>
<line x1="360.3" y1="301.4" x2="363.7" y2="301.4" stroke="#1515e0" stroke-width="0.9"/>
<rect x="360.4" y="296.46" width="3.2" height="3.2" fill="#1515e0"/>
<line x1="369.2" y1="340.45" x2="369.2" y2="341.78" stroke="#1515e0" stroke-width="0.9"/>
<line x1="367.5" y1="340.45" x2="370.9" y2="340.45" stroke="#1515e0" stroke-width="0.9"/>
<line x1="367.5" y1="341.78" x2="370.9" y2="341.78" stroke="#1515e0" stroke-width="0.9"/>
<rect x="367.6" y="339.51" width="3.2" height="3.2" fill="#1515e0"/>
<line x1="375.8" y1="340.78" x2="375.8" y2="342.12" stroke="#1515e0" stroke-width="0.9"/>
<line x1="374.1" y1="340.78" x2="377.5" y2="340.78" stroke="#1515e0" stroke-width="0.9"/>
<line x1="374.1" y1="342.12" x2="377.5" y2="342.12" stroke="#1515e0" stroke-width="0.9"/>
<rect x="374.2" y="339.85" width="3.2" height="3.2" fill="#1515e0"/>
<line x1="382.5" y1="341.12" x2="382.5" y2="342.45" stroke="#1515e0" stroke-width="0.9"/>
<line x1="380.8" y1="341.12" x2="384.2" y2="341.12" stroke="#1515e0" stroke-width="0.9"/>
<line x1="380.8" y1="342.45" x2="384.2" y2="342.45" stroke="#1515e0" stroke-width="0.9"/>
<rect x="380.9" y="340.18" width="3.2" height="3.2" fill="#1515e0"/>
<line x1="307.8" y1="320.42" x2="307.8" y2="328.43" stroke="#7a1a7a" stroke-width="0.9"/>
<line x1="306.1" y1="320.42" x2="309.5" y2="320.42" stroke="#7a1a7a" stroke-width="0.9"/>
<line x1="306.1" y1="328.43" x2="309.5" y2="328.43" stroke="#7a1a7a" stroke-width="0.9"/>
<line x1="314.7" y1="320.76" x2="314.7" y2="328.77" stroke="#7a1a7a" stroke-width="0.9"/>
<line x1="313" y1="320.76" x2="316.4" y2="320.76" stroke="#7a1a7a" stroke-width="0.9"/>
<line x1="313" y1="328.77" x2="316.4" y2="328.77" stroke="#7a1a7a" stroke-width="0.9"/>
<line x1="321.2" y1="321.09" x2="321.2" y2="329.1" stroke="#7a1a7a" stroke-width="0.9"/>
<line x1="319.5" y1="321.09" x2="322.9" y2="321.09" stroke="#7a1a7a" stroke-width="0.9"/>
<line x1="319.5" y1="329.1" x2="322.9" y2="329.1" stroke="#7a1a7a" stroke-width="0.9"/>
<line x1="348.8" y1="290.72" x2="348.8" y2="303.4" stroke="#7a1a7a" stroke-width="0.9"/>
<line x1="347.1" y1="290.72" x2="350.5" y2="290.72" stroke="#7a1a7a" stroke-width="0.9"/>
<line x1="347.1" y1="303.4" x2="350.5" y2="303.4" stroke="#7a1a7a" stroke-width="0.9"/>
<line x1="355.3" y1="290.72" x2="355.3" y2="303.4" stroke="#7a1a7a" stroke-width="0.9"/>
<line x1="353.6" y1="290.72" x2="357" y2="290.72" stroke="#7a1a7a" stroke-width="0.9"/>
<line x1="353.6" y1="303.4" x2="357" y2="303.4" stroke="#7a1a7a" stroke-width="0.9"/>
<line x1="362" y1="290.72" x2="362" y2="303.4" stroke="#7a1a7a" stroke-width="0.9"/>
<line x1="360.3" y1="290.72" x2="363.7" y2="290.72" stroke="#7a1a7a" stroke-width="0.9"/>
<line x1="360.3" y1="303.4" x2="363.7" y2="303.4" stroke="#7a1a7a" stroke-width="0.9"/>
<line x1="305.9" y1="355.8" x2="305.9" y2="275.2" stroke="#000" stroke-width="1.2"/>
<line x1="305.9" y1="355.8" x2="385.9" y2="355.8" stroke="#000" stroke-width="1.2"/>
<line x1="304.1" y1="355.8" x2="305.9" y2="355.8" stroke="#000" stroke-width="1"/>
<text x="303.6" y="357.8" font-size="5.6" font-weight="bold" text-anchor="end" fill="#222">0</text>
<line x1="304.1" y1="329.1" x2="305.9" y2="329.1" stroke="#000" stroke-width="1"/>
<text x="303.6" y="331.1" font-size="5.6" font-weight="bold" text-anchor="end" fill="#222">400</text>
<line x1="304.1" y1="302.4" x2="305.9" y2="302.4" stroke="#000" stroke-width="1"/>
<text x="303.6" y="304.4" font-size="5.6" font-weight="bold" text-anchor="end" fill="#222">800</text>
<line x1="304.1" y1="275.7" x2="305.9" y2="275.7" stroke="#000" stroke-width="1"/>
<text x="303.6" y="277.7" font-size="5.6" font-weight="bold" text-anchor="end" fill="#222">1,200</text>
<line x1="305.9" y1="355.8" x2="305.9" y2="357.6" stroke="#000" stroke-width="1"/>
<text x="305.9" y="364.88" font-size="5.8" font-weight="bold" text-anchor="middle" fill="#222">0</text>
<line x1="325.9" y1="355.8" x2="325.9" y2="357.6" stroke="#000" stroke-width="1"/>
<text x="325.9" y="364.88" font-size="5.8" font-weight="bold" text-anchor="middle" fill="#222">20</text>
<line x1="345.9" y1="355.8" x2="345.9" y2="357.6" stroke="#000" stroke-width="1"/>
<text x="345.9" y="364.88" font-size="5.8" font-weight="bold" text-anchor="middle" fill="#222">40</text>
<line x1="365.9" y1="355.8" x2="365.9" y2="357.6" stroke="#000" stroke-width="1"/>
<text x="365.9" y="364.88" font-size="5.8" font-weight="bold" text-anchor="middle" fill="#222">60</text>
<line x1="385.9" y1="355.8" x2="385.9" y2="357.6" stroke="#000" stroke-width="1"/>
<text x="385.9" y="364.88" font-size="5.8" font-weight="bold" text-anchor="middle" fill="#222">80</text>
<text x="308.1" y="278.68" font-size="6.1" font-weight="bold" text-anchor="start" fill="#000">Capan-1</text>
<line x1="322.3" y1="309.6" x2="322.3" y2="318.4" stroke="#000" stroke-width="1.1"/>
<path d="M320.9 317.6 L323.7 317.6 L322.3 320.4 Z" fill="#000"/>
<text x="323.5" y="308.13" font-size="5.4" font-weight="bold" text-anchor="middle" fill="#111">Oligomycin</text>
<line x1="345.3" y1="283.3" x2="345.3" y2="286.2" stroke="#000" stroke-width="1.1"/>
<path d="M343.9 285.4 L346.7 285.4 L345.3 288.2 Z" fill="#000"/>
<text x="346.7" y="281.43" font-size="5.4" font-weight="bold" text-anchor="middle" fill="#111">FCCP</text>
<line x1="365.8" y1="283.3" x2="365.8" y2="286.2" stroke="#000" stroke-width="1.1"/>
<path d="M364.4 285.4 L367.2 285.4 L365.8 288.2 Z" fill="#000"/>
<text x="368.1" y="281.93" font-size="5.4" font-weight="bold" text-anchor="middle" fill="#111">Rotenone</text>
<text x="350.8" y="375.54" font-size="8.2" font-weight="bold" text-anchor="middle" fill="#000">Time (min)</text>
<text transform="translate(277.65 318) rotate(-90)" font-size="8.8" font-weight="bold" text-anchor="middle" fill="#000">OCR</text>
<text transform="translate(284.61 317.4) rotate(-90)" font-size="8.4" font-weight="bold" text-anchor="middle" fill="#000">(pMol/min/10<tspan font-size="5.2" dy="-3.2">5</tspan><tspan dy="3.2"> cells)</tspan></text>
<path d="M436.9 297.03 L443.8 297.03 L450.8 297.84 L457.7 324.4 L464.6 324.81 L471.5 324.81 L478.5 287.77 L485.4 288.18 L492 288.18 L499.2 336.07 L506.2 336.48 L512.7 336.48" fill="none" stroke="#7a1a7a" stroke-width="1.9" stroke-linejoin="round" opacity="1"/>
<line x1="436.9" y1="292.6" x2="436.9" y2="301.46" stroke="#7a1a7a" stroke-width="0.9"/>
<line x1="435.2" y1="292.6" x2="438.6" y2="292.6" stroke="#7a1a7a" stroke-width="0.9"/>
<line x1="435.2" y1="301.46" x2="438.6" y2="301.46" stroke="#7a1a7a" stroke-width="0.9"/>
<rect x="435.3" y="295.43" width="3.2" height="3.2" fill="#7a1a7a"/>
<line x1="443.8" y1="292.6" x2="443.8" y2="301.46" stroke="#7a1a7a" stroke-width="0.9"/>
<line x1="442.1" y1="292.6" x2="445.5" y2="292.6" stroke="#7a1a7a" stroke-width="0.9"/>
<line x1="442.1" y1="301.46" x2="445.5" y2="301.46" stroke="#7a1a7a" stroke-width="0.9"/>
<rect x="442.2" y="295.43" width="3.2" height="3.2" fill="#7a1a7a"/>
<line x1="450.8" y1="293.41" x2="450.8" y2="302.26" stroke="#7a1a7a" stroke-width="0.9"/>
<line x1="449.1" y1="293.41" x2="452.5" y2="293.41" stroke="#7a1a7a" stroke-width="0.9"/>
<line x1="449.1" y1="302.26" x2="452.5" y2="302.26" stroke="#7a1a7a" stroke-width="0.9"/>
<rect x="449.2" y="296.24" width="3.2" height="3.2" fill="#7a1a7a"/>
<line x1="457.7" y1="321.99" x2="457.7" y2="326.82" stroke="#7a1a7a" stroke-width="0.9"/>
<line x1="456" y1="321.99" x2="459.4" y2="321.99" stroke="#7a1a7a" stroke-width="0.9"/>
<line x1="456" y1="326.82" x2="459.4" y2="326.82" stroke="#7a1a7a" stroke-width="0.9"/>
<rect x="456.1" y="322.8" width="3.2" height="3.2" fill="#7a1a7a"/>
<line x1="464.6" y1="322.39" x2="464.6" y2="327.22" stroke="#7a1a7a" stroke-width="0.9"/>
<line x1="462.9" y1="322.39" x2="466.3" y2="322.39" stroke="#7a1a7a" stroke-width="0.9"/>
<line x1="462.9" y1="327.22" x2="466.3" y2="327.22" stroke="#7a1a7a" stroke-width="0.9"/>
<rect x="463" y="323.2" width="3.2" height="3.2" fill="#7a1a7a"/>
<line x1="471.5" y1="322.39" x2="471.5" y2="327.22" stroke="#7a1a7a" stroke-width="0.9"/>
<line x1="469.8" y1="322.39" x2="473.2" y2="322.39" stroke="#7a1a7a" stroke-width="0.9"/>
<line x1="469.8" y1="327.22" x2="473.2" y2="327.22" stroke="#7a1a7a" stroke-width="0.9"/>
<rect x="469.9" y="323.2" width="3.2" height="3.2" fill="#7a1a7a"/>
<line x1="478.5" y1="281.74" x2="478.5" y2="293.81" stroke="#7a1a7a" stroke-width="0.9"/>
<line x1="476.8" y1="281.74" x2="480.2" y2="281.74" stroke="#7a1a7a" stroke-width="0.9"/>
<line x1="476.8" y1="293.81" x2="480.2" y2="293.81" stroke="#7a1a7a" stroke-width="0.9"/>
<rect x="476.9" y="286.17" width="3.2" height="3.2" fill="#7a1a7a"/>
<line x1="485.4" y1="282.14" x2="485.4" y2="294.22" stroke="#7a1a7a" stroke-width="0.9"/>
<line x1="483.7" y1="282.14" x2="487.1" y2="282.14" stroke="#7a1a7a" stroke-width="0.9"/>
<line x1="483.7" y1="294.22" x2="487.1" y2="294.22" stroke="#7a1a7a" stroke-width="0.9"/>
<rect x="483.8" y="286.58" width="3.2" height="3.2" fill="#7a1a7a"/>
<line x1="492" y1="282.14" x2="492" y2="294.22" stroke="#7a1a7a" stroke-width="0.9"/>
<line x1="490.3" y1="282.14" x2="493.7" y2="282.14" stroke="#7a1a7a" stroke-width="0.9"/>
<line x1="490.3" y1="294.22" x2="493.7" y2="294.22" stroke="#7a1a7a" stroke-width="0.9"/>
<rect x="490.4" y="286.58" width="3.2" height="3.2" fill="#7a1a7a"/>
<line x1="499.2" y1="334.46" x2="499.2" y2="337.69" stroke="#7a1a7a" stroke-width="0.9"/>
<line x1="497.5" y1="334.46" x2="500.9" y2="334.46" stroke="#7a1a7a" stroke-width="0.9"/>
<line x1="497.5" y1="337.69" x2="500.9" y2="337.69" stroke="#7a1a7a" stroke-width="0.9"/>
<rect x="497.6" y="334.47" width="3.2" height="3.2" fill="#7a1a7a"/>
<line x1="506.2" y1="334.87" x2="506.2" y2="338.09" stroke="#7a1a7a" stroke-width="0.9"/>
<line x1="504.5" y1="334.87" x2="507.9" y2="334.87" stroke="#7a1a7a" stroke-width="0.9"/>
<line x1="504.5" y1="338.09" x2="507.9" y2="338.09" stroke="#7a1a7a" stroke-width="0.9"/>
<rect x="504.6" y="334.88" width="3.2" height="3.2" fill="#7a1a7a"/>
<line x1="512.7" y1="334.87" x2="512.7" y2="338.09" stroke="#7a1a7a" stroke-width="0.9"/>
<line x1="511" y1="334.87" x2="514.4" y2="334.87" stroke="#7a1a7a" stroke-width="0.9"/>
<line x1="511" y1="338.09" x2="514.4" y2="338.09" stroke="#7a1a7a" stroke-width="0.9"/>
<rect x="511.1" y="334.88" width="3.2" height="3.2" fill="#7a1a7a"/>
<path d="M436.9 321.18 L443.8 321.99 L450.8 322.39 L457.7 336.07 L464.6 336.48 L471.5 336.48 L478.5 308.7 L485.4 308.7 L492 309.11 L499.2 339.29 L506.2 339.7 L512.7 339.7" fill="none" stroke="#e81818" stroke-width="1.9" stroke-linejoin="round" opacity="1"/>
<line x1="436.9" y1="318.37" x2="436.9" y2="324" stroke="#e81818" stroke-width="0.9"/>
<line x1="435.2" y1="318.37" x2="438.6" y2="318.37" stroke="#e81818" stroke-width="0.9"/>
<line x1="435.2" y1="324" x2="438.6" y2="324" stroke="#e81818" stroke-width="0.9"/>
<rect x="435.3" y="319.58" width="3.2" height="3.2" fill="#e81818"/>
<line x1="443.8" y1="319.17" x2="443.8" y2="324.81" stroke="#e81818" stroke-width="0.9"/>
<line x1="442.1" y1="319.17" x2="445.5" y2="319.17" stroke="#e81818" stroke-width="0.9"/>
<line x1="442.1" y1="324.81" x2="445.5" y2="324.81" stroke="#e81818" stroke-width="0.9"/>
<rect x="442.2" y="320.39" width="3.2" height="3.2" fill="#e81818"/>
<line x1="450.8" y1="319.57" x2="450.8" y2="325.21" stroke="#e81818" stroke-width="0.9"/>
<line x1="449.1" y1="319.57" x2="452.5" y2="319.57" stroke="#e81818" stroke-width="0.9"/>
<line x1="449.1" y1="325.21" x2="452.5" y2="325.21" stroke="#e81818" stroke-width="0.9"/>
<rect x="449.2" y="320.79" width="3.2" height="3.2" fill="#e81818"/>
<line x1="457.7" y1="334.87" x2="457.7" y2="337.28" stroke="#e81818" stroke-width="0.9"/>
<line x1="456" y1="334.87" x2="459.4" y2="334.87" stroke="#e81818" stroke-width="0.9"/>
<line x1="456" y1="337.28" x2="459.4" y2="337.28" stroke="#e81818" stroke-width="0.9"/>
<rect x="456.1" y="334.47" width="3.2" height="3.2" fill="#e81818"/>
<line x1="464.6" y1="335.27" x2="464.6" y2="337.68" stroke="#e81818" stroke-width="0.9"/>
<line x1="462.9" y1="335.27" x2="466.3" y2="335.27" stroke="#e81818" stroke-width="0.9"/>
<line x1="462.9" y1="337.68" x2="466.3" y2="337.68" stroke="#e81818" stroke-width="0.9"/>
<rect x="463" y="334.88" width="3.2" height="3.2" fill="#e81818"/>
<line x1="471.5" y1="335.27" x2="471.5" y2="337.68" stroke="#e81818" stroke-width="0.9"/>
<line x1="469.8" y1="335.27" x2="473.2" y2="335.27" stroke="#e81818" stroke-width="0.9"/>
<line x1="469.8" y1="337.68" x2="473.2" y2="337.68" stroke="#e81818" stroke-width="0.9"/>
<rect x="469.9" y="334.88" width="3.2" height="3.2" fill="#e81818"/>
<line x1="478.5" y1="305.08" x2="478.5" y2="312.33" stroke="#e81818" stroke-width="0.9"/>
<line x1="476.8" y1="305.08" x2="480.2" y2="305.08" stroke="#e81818" stroke-width="0.9"/>
<line x1="476.8" y1="312.33" x2="480.2" y2="312.33" stroke="#e81818" stroke-width="0.9"/>
<rect x="476.9" y="307.1" width="3.2" height="3.2" fill="#e81818"/>
<line x1="485.4" y1="305.08" x2="485.4" y2="312.33" stroke="#e81818" stroke-width="0.9"/>
<line x1="483.7" y1="305.08" x2="487.1" y2="305.08" stroke="#e81818" stroke-width="0.9"/>
<line x1="483.7" y1="312.33" x2="487.1" y2="312.33" stroke="#e81818" stroke-width="0.9"/>
<rect x="483.8" y="307.1" width="3.2" height="3.2" fill="#e81818"/>
<line x1="492" y1="305.48" x2="492" y2="312.73" stroke="#e81818" stroke-width="0.9"/>
<line x1="490.3" y1="305.48" x2="493.7" y2="305.48" stroke="#e81818" stroke-width="0.9"/>
<line x1="490.3" y1="312.73" x2="493.7" y2="312.73" stroke="#e81818" stroke-width="0.9"/>
<rect x="490.4" y="307.51" width="3.2" height="3.2" fill="#e81818"/>
<line x1="499.2" y1="338.09" x2="499.2" y2="340.5" stroke="#e81818" stroke-width="0.9"/>
<line x1="497.5" y1="338.09" x2="500.9" y2="338.09" stroke="#e81818" stroke-width="0.9"/>
<line x1="497.5" y1="340.5" x2="500.9" y2="340.5" stroke="#e81818" stroke-width="0.9"/>
<rect x="497.6" y="337.69" width="3.2" height="3.2" fill="#e81818"/>
<line x1="506.2" y1="338.49" x2="506.2" y2="340.9" stroke="#e81818" stroke-width="0.9"/>
<line x1="504.5" y1="338.49" x2="507.9" y2="338.49" stroke="#e81818" stroke-width="0.9"/>
<line x1="504.5" y1="340.9" x2="507.9" y2="340.9" stroke="#e81818" stroke-width="0.9"/>
<rect x="504.6" y="338.1" width="3.2" height="3.2" fill="#e81818"/>
<line x1="512.7" y1="338.49" x2="512.7" y2="340.9" stroke="#e81818" stroke-width="0.9"/>
<line x1="511" y1="338.49" x2="514.4" y2="338.49" stroke="#e81818" stroke-width="0.9"/>
<line x1="511" y1="340.9" x2="514.4" y2="340.9" stroke="#e81818" stroke-width="0.9"/>
<rect x="511.1" y="338.1" width="3.2" height="3.2" fill="#e81818"/>
<path d="M436.9 307.9 L443.8 307.9 L450.8 308.3 L457.7 325.21 L464.6 325.21 L471.5 325.21 L478.5 298.64 L485.4 298.64 L492 299.04 L499.2 337.28 L506.2 337.69 L512.7 337.69" fill="none" stroke="#44e044" stroke-width="1.9" stroke-linejoin="round" opacity="1"/>
<line x1="436.9" y1="304.68" x2="436.9" y2="311.12" stroke="#44e044" stroke-width="0.9"/>
<line x1="435.2" y1="304.68" x2="438.6" y2="304.68" stroke="#44e044" stroke-width="0.9"/>
<line x1="435.2" y1="311.12" x2="438.6" y2="311.12" stroke="#44e044" stroke-width="0.9"/>
<rect x="435.3" y="306.3" width="3.2" height="3.2" fill="#44e044"/>
<line x1="443.8" y1="304.68" x2="443.8" y2="311.12" stroke="#44e044" stroke-width="0.9"/>
<line x1="442.1" y1="304.68" x2="445.5" y2="304.68" stroke="#44e044" stroke-width="0.9"/>
<line x1="442.1" y1="311.12" x2="445.5" y2="311.12" stroke="#44e044" stroke-width="0.9"/>
<rect x="442.2" y="306.3" width="3.2" height="3.2" fill="#44e044"/>
<line x1="450.8" y1="305.08" x2="450.8" y2="311.52" stroke="#44e044" stroke-width="0.9"/>
<line x1="449.1" y1="305.08" x2="452.5" y2="305.08" stroke="#44e044" stroke-width="0.9"/>
<line x1="449.1" y1="311.52" x2="452.5" y2="311.52" stroke="#44e044" stroke-width="0.9"/>
<rect x="449.2" y="306.7" width="3.2" height="3.2" fill="#44e044"/>
<line x1="457.7" y1="323.6" x2="457.7" y2="326.82" stroke="#44e044" stroke-width="0.9"/>
<line x1="456" y1="323.6" x2="459.4" y2="323.6" stroke="#44e044" stroke-width="0.9"/>
<line x1="456" y1="326.82" x2="459.4" y2="326.82" stroke="#44e044" stroke-width="0.9"/>
<rect x="456.1" y="323.61" width="3.2" height="3.2" fill="#44e044"/>
<line x1="464.6" y1="323.6" x2="464.6" y2="326.82" stroke="#44e044" stroke-width="0.9"/>
<line x1="462.9" y1="323.6" x2="466.3" y2="323.6" stroke="#44e044" stroke-width="0.9"/>
<line x1="462.9" y1="326.82" x2="466.3" y2="326.82" stroke="#44e044" stroke-width="0.9"/>
<rect x="463" y="323.61" width="3.2" height="3.2" fill="#44e044"/>
<line x1="471.5" y1="323.6" x2="471.5" y2="326.82" stroke="#44e044" stroke-width="0.9"/>
<line x1="469.8" y1="323.6" x2="473.2" y2="323.6" stroke="#44e044" stroke-width="0.9"/>
<line x1="469.8" y1="326.82" x2="473.2" y2="326.82" stroke="#44e044" stroke-width="0.9"/>
<rect x="469.9" y="323.61" width="3.2" height="3.2" fill="#44e044"/>
<line x1="478.5" y1="295.02" x2="478.5" y2="302.26" stroke="#44e044" stroke-width="0.9"/>
<line x1="476.8" y1="295.02" x2="480.2" y2="295.02" stroke="#44e044" stroke-width="0.9"/>
<line x1="476.8" y1="302.26" x2="480.2" y2="302.26" stroke="#44e044" stroke-width="0.9"/>
<rect x="476.9" y="297.04" width="3.2" height="3.2" fill="#44e044"/>
<line x1="485.4" y1="295.02" x2="485.4" y2="302.26" stroke="#44e044" stroke-width="0.9"/>
<line x1="483.7" y1="295.02" x2="487.1" y2="295.02" stroke="#44e044" stroke-width="0.9"/>
<line x1="483.7" y1="302.26" x2="487.1" y2="302.26" stroke="#44e044" stroke-width="0.9"/>
<rect x="483.8" y="297.04" width="3.2" height="3.2" fill="#44e044"/>
<line x1="492" y1="295.42" x2="492" y2="302.67" stroke="#44e044" stroke-width="0.9"/>
<line x1="490.3" y1="295.42" x2="493.7" y2="295.42" stroke="#44e044" stroke-width="0.9"/>
<line x1="490.3" y1="302.67" x2="493.7" y2="302.67" stroke="#44e044" stroke-width="0.9"/>
<rect x="490.4" y="297.44" width="3.2" height="3.2" fill="#44e044"/>
<line x1="499.2" y1="336.07" x2="499.2" y2="338.49" stroke="#44e044" stroke-width="0.9"/>
<line x1="497.5" y1="336.07" x2="500.9" y2="336.07" stroke="#44e044" stroke-width="0.9"/>
<line x1="497.5" y1="338.49" x2="500.9" y2="338.49" stroke="#44e044" stroke-width="0.9"/>
<rect x="497.6" y="335.68" width="3.2" height="3.2" fill="#44e044"/>
<line x1="506.2" y1="336.48" x2="506.2" y2="338.89" stroke="#44e044" stroke-width="0.9"/>
<line x1="504.5" y1="336.48" x2="507.9" y2="336.48" stroke="#44e044" stroke-width="0.9"/>
<line x1="504.5" y1="338.89" x2="507.9" y2="338.89" stroke="#44e044" stroke-width="0.9"/>
<rect x="504.6" y="336.08" width="3.2" height="3.2" fill="#44e044"/>
<line x1="512.7" y1="336.48" x2="512.7" y2="338.89" stroke="#44e044" stroke-width="0.9"/>
<line x1="511" y1="336.48" x2="514.4" y2="336.48" stroke="#44e044" stroke-width="0.9"/>
<line x1="511" y1="338.89" x2="514.4" y2="338.89" stroke="#44e044" stroke-width="0.9"/>
<rect x="511.1" y="336.08" width="3.2" height="3.2" fill="#44e044"/>
<path d="M436.9 297.84 L443.8 298.24 L450.8 298.64 L457.7 324.81 L464.6 325.21 L471.5 325.61 L478.5 288.58 L485.4 289.38 L492 289.38 L499.2 336.48 L506.2 336.88 L512.7 336.88" fill="none" stroke="#1515e0" stroke-width="2.1" stroke-linejoin="round" opacity="1"/>
<line x1="436.9" y1="294.62" x2="436.9" y2="301.06" stroke="#1515e0" stroke-width="0.9"/>
<line x1="435.2" y1="294.62" x2="438.6" y2="294.62" stroke="#1515e0" stroke-width="0.9"/>
<line x1="435.2" y1="301.06" x2="438.6" y2="301.06" stroke="#1515e0" stroke-width="0.9"/>
<rect x="435.3" y="296.24" width="3.2" height="3.2" fill="#1515e0"/>
<line x1="443.8" y1="295.02" x2="443.8" y2="301.46" stroke="#1515e0" stroke-width="0.9"/>
<line x1="442.1" y1="295.02" x2="445.5" y2="295.02" stroke="#1515e0" stroke-width="0.9"/>
<line x1="442.1" y1="301.46" x2="445.5" y2="301.46" stroke="#1515e0" stroke-width="0.9"/>
<rect x="442.2" y="296.64" width="3.2" height="3.2" fill="#1515e0"/>
<line x1="450.8" y1="295.42" x2="450.8" y2="301.86" stroke="#1515e0" stroke-width="0.9"/>
<line x1="449.1" y1="295.42" x2="452.5" y2="295.42" stroke="#1515e0" stroke-width="0.9"/>
<line x1="449.1" y1="301.86" x2="452.5" y2="301.86" stroke="#1515e0" stroke-width="0.9"/>
<rect x="449.2" y="297.04" width="3.2" height="3.2" fill="#1515e0"/>
<line x1="457.7" y1="322.39" x2="457.7" y2="327.22" stroke="#1515e0" stroke-width="0.9"/>
<line x1="456" y1="322.39" x2="459.4" y2="322.39" stroke="#1515e0" stroke-width="0.9"/>
<line x1="456" y1="327.22" x2="459.4" y2="327.22" stroke="#1515e0" stroke-width="0.9"/>
<rect x="456.1" y="323.2" width="3.2" height="3.2" fill="#1515e0"/>
<line x1="464.6" y1="322.79" x2="464.6" y2="327.62" stroke="#1515e0" stroke-width="0.9"/>
<line x1="462.9" y1="322.79" x2="466.3" y2="322.79" stroke="#1515e0" stroke-width="0.9"/>
<line x1="462.9" y1="327.62" x2="466.3" y2="327.62" stroke="#1515e0" stroke-width="0.9"/>
<rect x="463" y="323.61" width="3.2" height="3.2" fill="#1515e0"/>
<line x1="471.5" y1="323.19" x2="471.5" y2="328.03" stroke="#1515e0" stroke-width="0.9"/>
<line x1="469.8" y1="323.19" x2="473.2" y2="323.19" stroke="#1515e0" stroke-width="0.9"/>
<line x1="469.8" y1="328.03" x2="473.2" y2="328.03" stroke="#1515e0" stroke-width="0.9"/>
<rect x="469.9" y="324.01" width="3.2" height="3.2" fill="#1515e0"/>
<line x1="478.5" y1="284.56" x2="478.5" y2="292.6" stroke="#1515e0" stroke-width="0.9"/>
<line x1="476.8" y1="284.56" x2="480.2" y2="284.56" stroke="#1515e0" stroke-width="0.9"/>
<line x1="476.8" y1="292.6" x2="480.2" y2="292.6" stroke="#1515e0" stroke-width="0.9"/>
<rect x="476.9" y="286.98" width="3.2" height="3.2" fill="#1515e0"/>
<line x1="485.4" y1="285.36" x2="485.4" y2="293.41" stroke="#1515e0" stroke-width="0.9"/>
<line x1="483.7" y1="285.36" x2="487.1" y2="285.36" stroke="#1515e0" stroke-width="0.9"/>
<line x1="483.7" y1="293.41" x2="487.1" y2="293.41" stroke="#1515e0" stroke-width="0.9"/>
<rect x="483.8" y="287.78" width="3.2" height="3.2" fill="#1515e0"/>
<line x1="492" y1="285.36" x2="492" y2="293.41" stroke="#1515e0" stroke-width="0.9"/>
<line x1="490.3" y1="285.36" x2="493.7" y2="285.36" stroke="#1515e0" stroke-width="0.9"/>
<line x1="490.3" y1="293.41" x2="493.7" y2="293.41" stroke="#1515e0" stroke-width="0.9"/>
<rect x="490.4" y="287.78" width="3.2" height="3.2" fill="#1515e0"/>
<line x1="499.2" y1="334.87" x2="499.2" y2="338.09" stroke="#1515e0" stroke-width="0.9"/>
<line x1="497.5" y1="334.87" x2="500.9" y2="334.87" stroke="#1515e0" stroke-width="0.9"/>
<line x1="497.5" y1="338.09" x2="500.9" y2="338.09" stroke="#1515e0" stroke-width="0.9"/>
<rect x="497.6" y="334.88" width="3.2" height="3.2" fill="#1515e0"/>
<line x1="506.2" y1="335.27" x2="506.2" y2="338.49" stroke="#1515e0" stroke-width="0.9"/>
<line x1="504.5" y1="335.27" x2="507.9" y2="335.27" stroke="#1515e0" stroke-width="0.9"/>
<line x1="504.5" y1="338.49" x2="507.9" y2="338.49" stroke="#1515e0" stroke-width="0.9"/>
<rect x="504.6" y="335.28" width="3.2" height="3.2" fill="#1515e0"/>
<line x1="512.7" y1="335.27" x2="512.7" y2="338.49" stroke="#1515e0" stroke-width="0.9"/>
<line x1="511" y1="335.27" x2="514.4" y2="335.27" stroke="#1515e0" stroke-width="0.9"/>
<line x1="511" y1="338.49" x2="514.4" y2="338.49" stroke="#1515e0" stroke-width="0.9"/>
<rect x="511.1" y="335.28" width="3.2" height="3.2" fill="#1515e0"/>
<line x1="436.9" y1="292.6" x2="436.9" y2="301.46" stroke="#7a1a7a" stroke-width="0.9"/>
<line x1="435.2" y1="292.6" x2="438.6" y2="292.6" stroke="#7a1a7a" stroke-width="0.9"/>
<line x1="435.2" y1="301.46" x2="438.6" y2="301.46" stroke="#7a1a7a" stroke-width="0.9"/>
<line x1="443.8" y1="292.6" x2="443.8" y2="301.46" stroke="#7a1a7a" stroke-width="0.9"/>
<line x1="442.1" y1="292.6" x2="445.5" y2="292.6" stroke="#7a1a7a" stroke-width="0.9"/>
<line x1="442.1" y1="301.46" x2="445.5" y2="301.46" stroke="#7a1a7a" stroke-width="0.9"/>
<line x1="450.8" y1="293.41" x2="450.8" y2="302.26" stroke="#7a1a7a" stroke-width="0.9"/>
<line x1="449.1" y1="293.41" x2="452.5" y2="293.41" stroke="#7a1a7a" stroke-width="0.9"/>
<line x1="449.1" y1="302.26" x2="452.5" y2="302.26" stroke="#7a1a7a" stroke-width="0.9"/>
<line x1="478.5" y1="281.74" x2="478.5" y2="293.81" stroke="#7a1a7a" stroke-width="0.9"/>
<line x1="476.8" y1="281.74" x2="480.2" y2="281.74" stroke="#7a1a7a" stroke-width="0.9"/>
<line x1="476.8" y1="293.81" x2="480.2" y2="293.81" stroke="#7a1a7a" stroke-width="0.9"/>
<line x1="485.4" y1="282.14" x2="485.4" y2="294.22" stroke="#7a1a7a" stroke-width="0.9"/>
<line x1="483.7" y1="282.14" x2="487.1" y2="282.14" stroke="#7a1a7a" stroke-width="0.9"/>
<line x1="483.7" y1="294.22" x2="487.1" y2="294.22" stroke="#7a1a7a" stroke-width="0.9"/>
<line x1="492" y1="282.14" x2="492" y2="294.22" stroke="#7a1a7a" stroke-width="0.9"/>
<line x1="490.3" y1="282.14" x2="493.7" y2="282.14" stroke="#7a1a7a" stroke-width="0.9"/>
<line x1="490.3" y1="294.22" x2="493.7" y2="294.22" stroke="#7a1a7a" stroke-width="0.9"/>
<line x1="435.4" y1="356.2" x2="435.4" y2="275.2" stroke="#000" stroke-width="1.2"/>
<line x1="435.4" y1="356.2" x2="515.4" y2="356.2" stroke="#000" stroke-width="1.2"/>
<line x1="433.6" y1="356.2" x2="435.4" y2="356.2" stroke="#000" stroke-width="1"/>
<text x="433.1" y="358.2" font-size="5.6" font-weight="bold" text-anchor="end" fill="#222">0</text>
<line x1="433.6" y1="340.1" x2="435.4" y2="340.1" stroke="#000" stroke-width="1"/>
<text x="433.1" y="342.1" font-size="5.6" font-weight="bold" text-anchor="end" fill="#222">200</text>
<line x1="433.6" y1="324" x2="435.4" y2="324" stroke="#000" stroke-width="1"/>
<text x="433.1" y="326" font-size="5.6" font-weight="bold" text-anchor="end" fill="#222">400</text>
<line x1="433.6" y1="307.9" x2="435.4" y2="307.9" stroke="#000" stroke-width="1"/>
<text x="433.1" y="309.9" font-size="5.6" font-weight="bold" text-anchor="end" fill="#222">600</text>
<line x1="433.6" y1="291.8" x2="435.4" y2="291.8" stroke="#000" stroke-width="1"/>
<text x="433.1" y="293.8" font-size="5.6" font-weight="bold" text-anchor="end" fill="#222">800</text>
<line x1="433.6" y1="275.7" x2="435.4" y2="275.7" stroke="#000" stroke-width="1"/>
<text x="433.1" y="277.7" font-size="5.6" font-weight="bold" text-anchor="end" fill="#222">1,000</text>
<line x1="435.4" y1="356.2" x2="435.4" y2="358" stroke="#000" stroke-width="1"/>
<text x="435.4" y="365.28" font-size="5.8" font-weight="bold" text-anchor="middle" fill="#222">0</text>
<line x1="455.4" y1="356.2" x2="455.4" y2="358" stroke="#000" stroke-width="1"/>
<text x="455.4" y="365.28" font-size="5.8" font-weight="bold" text-anchor="middle" fill="#222">20</text>
<line x1="475.4" y1="356.2" x2="475.4" y2="358" stroke="#000" stroke-width="1"/>
<text x="475.4" y="365.28" font-size="5.8" font-weight="bold" text-anchor="middle" fill="#222">40</text>
<line x1="495.4" y1="356.2" x2="495.4" y2="358" stroke="#000" stroke-width="1"/>
<text x="495.4" y="365.28" font-size="5.8" font-weight="bold" text-anchor="middle" fill="#222">60</text>
<line x1="515.4" y1="356.2" x2="515.4" y2="358" stroke="#000" stroke-width="1"/>
<text x="515.4" y="365.28" font-size="5.8" font-weight="bold" text-anchor="middle" fill="#222">80</text>
<text x="439.3" y="278.09" font-size="6.4" font-weight="normal" text-anchor="start" fill="#000">SW1990</text>
<line x1="451" y1="341.8" x2="451" y2="334.3" stroke="#000" stroke-width="1.1"/>
<path d="M449.6 335.1 L452.4 335.1 L451 332.3 Z" fill="#000"/>
<text x="451" y="348.93" font-size="5.4" font-weight="bold" text-anchor="middle" fill="#111">Oligomycin</text>
<line x1="476.4" y1="343.6" x2="476.4" y2="340.4" stroke="#000" stroke-width="1.1"/>
<path d="M475 341.2 L477.8 341.2 L476.4 338.4 Z" fill="#000"/>
<text x="477.5" y="348.93" font-size="5.4" font-weight="bold" text-anchor="middle" fill="#111">FCCP</text>
<line x1="495.8" y1="273.3" x2="495.8" y2="278.2" stroke="#000" stroke-width="1.1"/>
<path d="M494.4 277.4 L497.2 277.4 L495.8 280.2 Z" fill="#000"/>
<text x="496" y="271.73" font-size="5.4" font-weight="normal" text-anchor="middle" fill="#111">Rotenone</text>
<text x="481.1" y="375.54" font-size="8.2" font-weight="bold" text-anchor="middle" fill="#000">Time (min)</text>
<text transform="translate(409.35 318) rotate(-90)" font-size="8.8" font-weight="bold" text-anchor="middle" fill="#000">OCR</text>
<text transform="translate(416.31 317.4) rotate(-90)" font-size="8.4" font-weight="bold" text-anchor="middle" fill="#000">(pMol/min/10<tspan font-size="5.2" dy="-3.2">5</tspan><tspan dy="3.2"> cells)</tspan></text>
<line x1="41.8" y1="413.3" x2="41.8" y2="492" stroke="#000" stroke-width="1"/>
<line x1="39.6" y1="492" x2="41.8" y2="492" stroke="#000" stroke-width="1"/>
<text x="39.8" y="493.97" font-size="5.5" font-weight="bold" text-anchor="end" fill="#111">0.0</text>
<line x1="39.6" y1="465.8" x2="41.8" y2="465.8" stroke="#000" stroke-width="1"/>
<text x="39.8" y="467.77" font-size="5.5" font-weight="bold" text-anchor="end" fill="#111">0.5</text>
<line x1="39.6" y1="439.6" x2="41.8" y2="439.6" stroke="#000" stroke-width="1"/>
<text x="39.8" y="441.57" font-size="5.5" font-weight="bold" text-anchor="end" fill="#111">1.0</text>
<line x1="39.6" y1="413.4" x2="41.8" y2="413.4" stroke="#000" stroke-width="1"/>
<text x="39.8" y="415.37" font-size="5.5" font-weight="bold" text-anchor="end" fill="#111">1.5</text>
<line x1="41.9" y1="492" x2="122.7" y2="492" stroke="#000" stroke-width="1"/>
<line x1="63" y1="492" x2="63" y2="494" stroke="#000" stroke-width="1"/>
<line x1="103" y1="492" x2="103" y2="494" stroke="#000" stroke-width="1"/>
<line x1="55.25" y1="439.2" x2="55.25" y2="432.5" stroke="#444" stroke-width="1"/>
<line x1="51.81" y1="432.5" x2="58.69" y2="432.5" stroke="#444" stroke-width="1"/>
<rect x="49.58" y="439.77" width="11.35" height="51.65" fill="#0000e6" stroke="#000" stroke-width="1.15"/>
<line x1="70.65" y1="432.5" x2="70.65" y2="425.8" stroke="#444" stroke-width="1"/>
<line x1="67.21" y1="425.8" x2="74.09" y2="425.8" stroke="#444" stroke-width="1"/>
<rect x="64.98" y="433.07" width="11.35" height="58.35" fill="#ee1111" stroke="#000" stroke-width="1.15"/>
<line x1="95.4" y1="456.8" x2="95.4" y2="450.4" stroke="#444" stroke-width="1"/>
<line x1="91.99" y1="450.4" x2="98.81" y2="450.4" stroke="#444" stroke-width="1"/>
<rect x="89.78" y="457.38" width="11.25" height="34.05" fill="#0000e6" stroke="#000" stroke-width="1.15"/>
<line x1="110.5" y1="440.3" x2="110.5" y2="429.3" stroke="#444" stroke-width="1"/>
<line x1="107.09" y1="429.3" x2="113.91" y2="429.3" stroke="#444" stroke-width="1"/>
<rect x="104.88" y="440.88" width="11.25" height="50.55" fill="#ee1111" stroke="#000" stroke-width="1.15"/>
<circle cx="110.3" cy="424" r="1.25" fill="#111"/>
<rect x="47.5" y="412.6" width="7.9" height="4.3" fill="#0000e6" stroke="#000" stroke-width="0.8"/>
<text x="59.2" y="417.27" font-size="6.9" font-weight="bold" text-anchor="start" fill="#000">Vehicle</text>
<rect x="92.7" y="412.6" width="9.3" height="4.3" fill="#ee1111" stroke="#000" stroke-width="0.8"/>
<text x="105.2" y="417.27" font-size="6.9" font-weight="bold" text-anchor="start" fill="#000">NAC</text>
<text x="63.7" y="504.91" font-size="8.4" font-weight="bold" text-anchor="middle" fill="#000">Scramble</text>
<text x="106.4" y="504.91" font-size="8.4" font-weight="bold" text-anchor="middle" fill="#000">sh-PIN1</text>
<line x1="48.4" y1="510.8" x2="121.5" y2="510.8" stroke="#555" stroke-width="1"/>
<text x="86.7" y="521.22" font-size="9" font-weight="bold" text-anchor="middle" fill="#000">Capan-1</text>
<text transform="translate(29.78 454.6) rotate(-90)" font-size="8.6" font-weight="bold" text-anchor="middle" fill="#000">JC-1 Aggregates/monomer</text>
<line x1="161.1" y1="413.3" x2="161.1" y2="492.2" stroke="#000" stroke-width="1"/>
<line x1="158.9" y1="492.2" x2="161.1" y2="492.2" stroke="#000" stroke-width="1"/>
<text x="159.1" y="494.17" font-size="5.5" font-weight="bold" text-anchor="end" fill="#111">0.0</text>
<line x1="158.9" y1="466" x2="161.1" y2="466" stroke="#000" stroke-width="1"/>
<text x="159.1" y="467.97" font-size="5.5" font-weight="bold" text-anchor="end" fill="#111">0.5</text>
<line x1="158.9" y1="439.8" x2="161.1" y2="439.8" stroke="#000" stroke-width="1"/>
<text x="159.1" y="441.77" font-size="5.5" font-weight="bold" text-anchor="end" fill="#111">1.0</text>
<line x1="158.9" y1="413.6" x2="161.1" y2="413.6" stroke="#000" stroke-width="1"/>
<text x="159.1" y="415.57" font-size="5.5" font-weight="bold" text-anchor="end" fill="#111">1.5</text>
<line x1="161.1" y1="492.2" x2="237.7" y2="492.2" stroke="#000" stroke-width="1"/>
<line x1="180.8" y1="492.2" x2="180.8" y2="494.2" stroke="#000" stroke-width="1"/>
<line x1="220.8" y1="492.2" x2="220.8" y2="494.2" stroke="#000" stroke-width="1"/>
<line x1="173.1" y1="439.2" x2="173.1" y2="431.5" stroke="#444" stroke-width="1"/>
<line x1="169.64" y1="431.5" x2="176.57" y2="431.5" stroke="#444" stroke-width="1"/>
<rect x="167.38" y="439.77" width="11.45" height="51.85" fill="#0000e6" stroke="#000" stroke-width="1.15"/>
<line x1="188.3" y1="440.8" x2="188.3" y2="433.5" stroke="#444" stroke-width="1"/>
<line x1="184.84" y1="433.5" x2="191.77" y2="433.5" stroke="#444" stroke-width="1"/>
<rect x="182.57" y="441.38" width="11.45" height="50.25" fill="#ee1111" stroke="#000" stroke-width="1.15"/>
<line x1="213.05" y1="460.9" x2="213.05" y2="454.3" stroke="#444" stroke-width="1"/>
<line x1="209.72" y1="454.3" x2="216.38" y2="454.3" stroke="#444" stroke-width="1"/>
<rect x="207.57" y="461.47" width="10.95" height="30.15" fill="#0000e6" stroke="#000" stroke-width="1.15"/>
<line x1="228.55" y1="445.7" x2="228.55" y2="439.8" stroke="#444" stroke-width="1"/>
<line x1="225.22" y1="439.8" x2="231.88" y2="439.8" stroke="#444" stroke-width="1"/>
<rect x="223.07" y="446.27" width="10.95" height="45.35" fill="#ee1111" stroke="#000" stroke-width="1.15"/>
<circle cx="228.6" cy="435.1" r="1.25" fill="#111"/>
<rect x="164.6" y="412.3" width="8.8" height="4.4" fill="#0000e6" stroke="#000" stroke-width="0.8"/>
<text x="177.1" y="417.07" font-size="6.9" font-weight="bold" text-anchor="start" fill="#000">Vehicle</text>
<rect x="210.2" y="412.3" width="7.9" height="4.4" fill="#ee1111" stroke="#000" stroke-width="0.8"/>
<text x="222.3" y="417.07" font-size="6.9" font-weight="bold" text-anchor="start" fill="#000">NAC</text>
<text x="178.5" y="505.31" font-size="8.4" font-weight="bold" text-anchor="middle" fill="#000">Scramble</text>
<text x="219" y="505.31" font-size="8.4" font-weight="bold" text-anchor="middle" fill="#000">sh-PIN1</text>
<line x1="165.1" y1="510.3" x2="237.1" y2="510.3" stroke="#555" stroke-width="1"/>
<text x="200.9" y="521.42" font-size="9" font-weight="bold" text-anchor="middle" fill="#000">SW1990</text>
<text transform="translate(146.48 455.3) rotate(-90)" font-size="8.6" font-weight="bold" text-anchor="middle" fill="#000">JC-1 Aggregates/monomer</text>
<line x1="305.5" y1="490.9" x2="305.5" y2="411.7" stroke="#000" stroke-width="1"/>
<line x1="303.5" y1="490.9" x2="305.5" y2="490.9" stroke="#000" stroke-width="1"/>
<text x="302.7" y="492.83" font-size="5.4" font-weight="bold" text-anchor="end" fill="#111">0</text>
<line x1="303.5" y1="464.5" x2="305.5" y2="464.5" stroke="#000" stroke-width="1"/>
<text x="302.7" y="466.43" font-size="5.4" font-weight="bold" text-anchor="end" fill="#111">5</text>
<line x1="303.5" y1="438.1" x2="305.5" y2="438.1" stroke="#000" stroke-width="1"/>
<text x="302.7" y="440.03" font-size="5.4" font-weight="bold" text-anchor="end" fill="#111">10</text>
<line x1="303.5" y1="411.7" x2="305.5" y2="411.7" stroke="#000" stroke-width="1"/>
<text x="302.7" y="413.63" font-size="5.4" font-weight="bold" text-anchor="end" fill="#111">15</text>
<line x1="316.2" y1="441.27" x2="316.2" y2="438.63" stroke="#000" stroke-width="1"/>
<line x1="312.4" y1="438.63" x2="320" y2="438.63" stroke="#000" stroke-width="1"/>
<rect x="309.05" y="441.72" width="14.3" height="48.73" fill="#ff0000" stroke="#000" stroke-width="0.9"/>
<rect x="309.5" y="466.61" width="13.4" height="23.39" fill="#0000ff"/>
<line x1="316.2" y1="466.61" x2="316.2" y2="464.5" stroke="#600" stroke-width="0.8"/>
<line x1="312.4" y1="464.5" x2="320" y2="464.5" stroke="#600" stroke-width="0.8"/>
<line x1="308.6" y1="466.61" x2="323.8" y2="466.61" stroke="#400" stroke-width="0.5"/>
<line x1="336" y1="424.37" x2="336" y2="419.09" stroke="#000" stroke-width="1"/>
<line x1="332.25" y1="419.09" x2="339.75" y2="419.09" stroke="#000" stroke-width="1"/>
<rect x="328.95" y="424.82" width="14.1" height="65.63" fill="#ff0000" stroke="#000" stroke-width="0.9"/>
<rect x="329.4" y="466.08" width="13.2" height="23.92" fill="#0000ff"/>
<line x1="336" y1="466.08" x2="336" y2="463.44" stroke="#600" stroke-width="0.8"/>
<line x1="332.25" y1="463.44" x2="339.75" y2="463.44" stroke="#600" stroke-width="0.8"/>
<line x1="328.5" y1="466.08" x2="343.5" y2="466.08" stroke="#400" stroke-width="0.5"/>
<line x1="356.1" y1="447.6" x2="356.1" y2="444.96" stroke="#000" stroke-width="1"/>
<line x1="352.35" y1="444.96" x2="359.85" y2="444.96" stroke="#000" stroke-width="1"/>
<rect x="349.05" y="448.05" width="14.1" height="42.4" fill="#ff0000" stroke="#000" stroke-width="0.9"/>
<rect x="349.5" y="468.72" width="13.2" height="21.28" fill="#0000ff"/>
<line x1="356.1" y1="468.72" x2="356.1" y2="466.61" stroke="#600" stroke-width="0.8"/>
<line x1="352.35" y1="466.61" x2="359.85" y2="466.61" stroke="#600" stroke-width="0.8"/>
<line x1="348.6" y1="468.72" x2="363.6" y2="468.72" stroke="#400" stroke-width="0.5"/>
<line x1="376.2" y1="439.68" x2="376.2" y2="436.25" stroke="#000" stroke-width="1"/>
<line x1="372.45" y1="436.25" x2="379.95" y2="436.25" stroke="#000" stroke-width="1"/>
<rect x="369.15" y="440.13" width="14.1" height="50.32" fill="#ff0000" stroke="#000" stroke-width="0.9"/>
<rect x="369.6" y="467.14" width="13.2" height="22.86" fill="#0000ff"/>
<line x1="376.2" y1="467.14" x2="376.2" y2="464.5" stroke="#600" stroke-width="0.8"/>
<line x1="372.45" y1="464.5" x2="379.95" y2="464.5" stroke="#600" stroke-width="0.8"/>
<line x1="368.7" y1="467.14" x2="383.7" y2="467.14" stroke="#400" stroke-width="0.5"/>
<line x1="305.5" y1="490.9" x2="385.2" y2="490.9" stroke="#000" stroke-width="1"/>
<line x1="316.2" y1="490.9" x2="316.2" y2="492.9" stroke="#000" stroke-width="1"/>
<line x1="336" y1="490.9" x2="336" y2="492.9" stroke="#000" stroke-width="1"/>
<line x1="356.1" y1="490.9" x2="356.1" y2="492.9" stroke="#000" stroke-width="1"/>
<line x1="376.2" y1="490.9" x2="376.2" y2="492.9" stroke="#000" stroke-width="1"/>
<text transform="translate(325.7 501) rotate(-21)" font-size="7.5" font-weight="bold" text-anchor="end" fill="#000">Scramble</text>
<text transform="translate(344.4 500.5) rotate(-21)" font-size="7.5" font-weight="bold" text-anchor="end" fill="#000">sh-PIN1</text>
<text transform="translate(367.4 501) rotate(-21)" font-size="7.5" font-weight="bold" text-anchor="end" fill="#000">Scramble</text>
<text transform="translate(385.9 500.5) rotate(-21)" font-size="7.5" font-weight="bold" text-anchor="end" fill="#000">sh-PIN1</text>
<text x="339" y="391.32" font-size="6.2" font-weight="bold" text-anchor="middle" fill="#111">Capan-1</text>
<line x1="310.8" y1="393.7" x2="365.8" y2="393.7" stroke="#000" stroke-width="1.2"/>
<rect x="310.65" y="399.65" width="8.3" height="4.6" fill="#ff0000" stroke="#000" stroke-width="0.7"/>
<rect x="310.65" y="407.25" width="8.3" height="4.6" fill="#0000ff" stroke="#000" stroke-width="0.7"/>
<text x="323" y="404.33" font-size="6.5" font-weight="bold" text-anchor="start" fill="#111">Early apoptosis</text>
<text x="323" y="411.83" font-size="6.5" font-weight="bold" text-anchor="start" fill="#111">Late apoptosis</text>
<text transform="translate(283.94 446.5) rotate(-90)" font-size="8.2" font-weight="bold" text-anchor="middle" fill="#000">Population of</text>
<text transform="translate(291.54 446.5) rotate(-90)" font-size="8.2" font-weight="bold" text-anchor="middle" fill="#000">apoptosis (%)</text>
<line x1="306.2" y1="515.7" x2="341.6" y2="515.7" stroke="#000" stroke-width="1.3"/>
<line x1="347.4" y1="515.7" x2="382.3" y2="515.7" stroke="#000" stroke-width="1.3"/>
<text x="324" y="526.37" font-size="8.3" font-weight="bold" text-anchor="middle" fill="#000">Control</text>
<text x="365.4" y="526.37" font-size="8.3" font-weight="bold" text-anchor="middle" fill="#000">NAC</text>
<circle cx="335.7" cy="413.8" r="1.25" fill="#111"/>
<line x1="435.5" y1="491.6" x2="435.5" y2="413" stroke="#000" stroke-width="1"/>
<line x1="433.5" y1="491.6" x2="435.5" y2="491.6" stroke="#000" stroke-width="1"/>
<text x="432.7" y="493.53" font-size="5.4" font-weight="bold" text-anchor="end" fill="#111">0</text>
<line x1="433.5" y1="465.4" x2="435.5" y2="465.4" stroke="#000" stroke-width="1"/>
<text x="432.7" y="467.33" font-size="5.4" font-weight="bold" text-anchor="end" fill="#111">4</text>
<line x1="433.5" y1="439.2" x2="435.5" y2="439.2" stroke="#000" stroke-width="1"/>
<text x="432.7" y="441.13" font-size="5.4" font-weight="bold" text-anchor="end" fill="#111">8</text>
<line x1="433.5" y1="413" x2="435.5" y2="413" stroke="#000" stroke-width="1"/>
<text x="432.7" y="414.93" font-size="5.4" font-weight="bold" text-anchor="end" fill="#111">12</text>
<line x1="446" y1="443.13" x2="446" y2="439.86" stroke="#000" stroke-width="1"/>
<line x1="442.05" y1="439.86" x2="449.95" y2="439.86" stroke="#000" stroke-width="1"/>
<rect x="438.55" y="443.58" width="14.9" height="47.57" fill="#ff0000" stroke="#000" stroke-width="0.9"/>
<rect x="439" y="455.58" width="14" height="35.12" fill="#0000ff"/>
<line x1="446" y1="455.58" x2="446" y2="452.96" stroke="#600" stroke-width="0.8"/>
<line x1="442.05" y1="452.96" x2="449.95" y2="452.96" stroke="#600" stroke-width="0.8"/>
<line x1="438.1" y1="455.58" x2="453.9" y2="455.58" stroke="#400" stroke-width="0.5"/>
<line x1="465.85" y1="426.1" x2="465.85" y2="420.53" stroke="#000" stroke-width="1"/>
<line x1="462.08" y1="420.53" x2="469.62" y2="420.53" stroke="#000" stroke-width="1"/>
<rect x="458.75" y="426.55" width="14.2" height="64.6" fill="#ff0000" stroke="#000" stroke-width="0.9"/>
<rect x="459.2" y="451.65" width="13.3" height="39.05" fill="#0000ff"/>
<line x1="465.85" y1="451.65" x2="465.85" y2="447.72" stroke="#600" stroke-width="0.8"/>
<line x1="462.08" y1="447.72" x2="469.62" y2="447.72" stroke="#600" stroke-width="0.8"/>
<line x1="458.3" y1="451.65" x2="473.4" y2="451.65" stroke="#400" stroke-width="0.5"/>
<line x1="485.85" y1="444.44" x2="485.85" y2="441.17" stroke="#000" stroke-width="1"/>
<line x1="481.98" y1="441.17" x2="489.73" y2="441.17" stroke="#000" stroke-width="1"/>
<rect x="478.55" y="444.89" width="14.6" height="46.26" fill="#ff0000" stroke="#000" stroke-width="0.9"/>
<rect x="479" y="457.54" width="13.7" height="33.16" fill="#0000ff"/>
<line x1="485.85" y1="457.54" x2="485.85" y2="454.92" stroke="#600" stroke-width="0.8"/>
<line x1="481.98" y1="454.92" x2="489.73" y2="454.92" stroke="#600" stroke-width="0.8"/>
<line x1="478.1" y1="457.54" x2="493.6" y2="457.54" stroke="#400" stroke-width="0.5"/>
<line x1="506" y1="439.2" x2="506" y2="434.94" stroke="#000" stroke-width="1"/>
<line x1="502.1" y1="434.94" x2="509.9" y2="434.94" stroke="#000" stroke-width="1"/>
<rect x="498.65" y="439.65" width="14.7" height="51.5" fill="#ff0000" stroke="#000" stroke-width="0.9"/>
<rect x="499.1" y="454.92" width="13.8" height="35.78" fill="#0000ff"/>
<line x1="506" y1="454.92" x2="506" y2="451.65" stroke="#600" stroke-width="0.8"/>
<line x1="502.1" y1="451.65" x2="509.9" y2="451.65" stroke="#600" stroke-width="0.8"/>
<line x1="498.2" y1="454.92" x2="513.8" y2="454.92" stroke="#400" stroke-width="0.5"/>
<line x1="435.5" y1="491.6" x2="515.3" y2="491.6" stroke="#000" stroke-width="1"/>
<line x1="446" y1="491.6" x2="446" y2="493.6" stroke="#000" stroke-width="1"/>
<line x1="465.85" y1="491.6" x2="465.85" y2="493.6" stroke="#000" stroke-width="1"/>
<line x1="485.85" y1="491.6" x2="485.85" y2="493.6" stroke="#000" stroke-width="1"/>
<line x1="506" y1="491.6" x2="506" y2="493.6" stroke="#000" stroke-width="1"/>
<text transform="translate(455.2 501.3) rotate(-21)" font-size="7.5" font-weight="bold" text-anchor="end" fill="#000">Scramble</text>
<text transform="translate(474.2 500.5) rotate(-21)" font-size="7.5" font-weight="bold" text-anchor="end" fill="#000">sh-PIN1</text>
<text transform="translate(497.2 501) rotate(-21)" font-size="7.5" font-weight="bold" text-anchor="end" fill="#000">Scramble</text>
<text transform="translate(516.2 500.5) rotate(-21)" font-size="7.5" font-weight="bold" text-anchor="end" fill="#000">sh-PIN1</text>
<text x="473" y="389.72" font-size="6.2" font-weight="bold" text-anchor="middle" fill="#111">SW1990</text>
<line x1="442.3" y1="391.1" x2="498.4" y2="391.1" stroke="#000" stroke-width="1.2"/>
<rect x="440.55" y="400.35" width="8.3" height="4.6" fill="#ff0000" stroke="#000" stroke-width="0.7"/>
<rect x="440.55" y="407.95" width="8.3" height="4.6" fill="#0000ff" stroke="#000" stroke-width="0.7"/>
<text x="453.9" y="405.03" font-size="6.5" font-weight="bold" text-anchor="start" fill="#111">Early apoptosis</text>
<text x="453.9" y="412.53" font-size="6.5" font-weight="bold" text-anchor="start" fill="#111">Late apoptosis</text>
<text transform="translate(416.24 446.5) rotate(-90)" font-size="8.2" font-weight="bold" text-anchor="middle" fill="#000">Population of</text>
<text transform="translate(423.84 446.5) rotate(-90)" font-size="8.2" font-weight="bold" text-anchor="middle" fill="#000">apoptosis (%)</text>
<line x1="437.2" y1="515.3" x2="471.5" y2="515.3" stroke="#000" stroke-width="1.3"/>
<line x1="477.6" y1="515.3" x2="512.9" y2="515.3" stroke="#000" stroke-width="1.3"/>
<text x="454.3" y="526.37" font-size="8.3" font-weight="bold" text-anchor="middle" fill="#000">Control</text>
<text x="495.3" y="526.37" font-size="8.3" font-weight="bold" text-anchor="middle" fill="#000">NAC</text>
<circle cx="466.2" cy="414.6" r="1.25" fill="#111"/>
</svg>
</body></html>
